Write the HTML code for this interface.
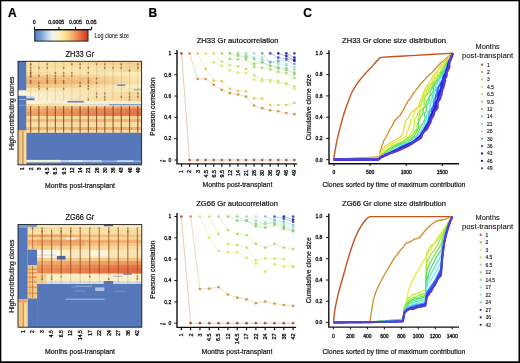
<!DOCTYPE html>
<html><head><meta charset="utf-8"><title>Figure</title>
<style>
html,body{margin:0;padding:0;background:#fff;overflow:hidden;}
svg{display:block;}
text{font-family:"Liberation Sans",sans-serif;}
</style></head><body>
<svg width="520" height="363" viewBox="0 0 520 363" font-family='"Liberation Sans",sans-serif' fill="#111">
<defs><filter id="gblur" x="0" y="0" width="100%" height="100%"><feGaussianBlur stdDeviation="0.3"/></filter></defs>
<rect x="0" y="0" width="520" height="363" fill="#fff"/>
<g filter="url(#gblur)">
<rect x="0" y="0" width="520" height="363" fill="#fff"/>
<rect x="0" y="0" width="520" height="1.3" fill="#000"/>
<rect x="0" y="0" width="1.3" height="363" fill="#000"/>
<rect x="518.5" y="0" width="1.5" height="363" fill="#000"/>
<rect x="0" y="361.3" width="520" height="1.7" fill="#000"/>
<text x="8.00" y="16.80" font-size="12" font-weight="bold" fill="#000" stroke="#000" stroke-width="0.2">A</text>
<text x="148.60" y="16.80" font-size="12" font-weight="bold" fill="#000" stroke="#000" stroke-width="0.2">B</text>
<text x="303.30" y="16.80" font-size="12" font-weight="bold" fill="#000" stroke="#000" stroke-width="0.2">C</text>
<defs><linearGradient id="cb" x1="0" x2="1" y1="0" y2="0"><stop offset="0" stop-color="#4f7cc4"/><stop offset="0.12" stop-color="#78a2d8"/><stop offset="0.25" stop-color="#c4dcec"/><stop offset="0.33" stop-color="#eef2ee"/><stop offset="0.45" stop-color="#fbf3c4"/><stop offset="0.58" stop-color="#fbe18e"/><stop offset="0.72" stop-color="#f4ac66"/><stop offset="0.86" stop-color="#e66c42"/><stop offset="1" stop-color="#c8361f"/></linearGradient></defs>
<rect x="34.7" y="29.8" width="53.3" height="11.3" fill="url(#cb)" stroke="#222" stroke-width="1"/>
<path d="M34.5 29.6H91.6M34.5 29.6V26.8M58.9 29.6V26.8M75.5 29.6V26.8M91.6 29.6V26.8" stroke="#111" stroke-width="1.1" fill="none"/>
<text x="34.30" y="23.50" font-size="5.2" text-anchor="middle" stroke="#111" stroke-width="0.3">0</text>
<text x="56.20" y="23.50" font-size="5.2" text-anchor="middle" textLength="16.10" lengthAdjust="spacingAndGlyphs" stroke="#111" stroke-width="0.3">0.0005</text>
<text x="75.40" y="23.50" font-size="5.2" text-anchor="middle" textLength="12.80" lengthAdjust="spacingAndGlyphs" stroke="#111" stroke-width="0.3">0.005</text>
<text x="91.30" y="23.50" font-size="5.2" text-anchor="middle" textLength="10.70" lengthAdjust="spacingAndGlyphs" stroke="#111" stroke-width="0.3">0.05</text>
<text x="94.60" y="37.80" font-size="6.4" textLength="34.40" lengthAdjust="spacingAndGlyphs" stroke="#111" stroke-width="0.08">Log clone size</text>
<defs><filter id="hb3" x="-2%" y="-2%" width="104%" height="104%"><feGaussianBlur stdDeviation="0.35"/></filter></defs>
<g filter="url(#hb3)">
<rect x="18.00" y="61.30" width="123.60" height="103.50" fill="#fbedb4"/>
<rect x="26.24" y="61.30" width="9.04" height="4.00" fill="#f8e2a8"/>
<rect x="34.48" y="61.30" width="9.04" height="4.00" fill="#f8e1a6"/>
<rect x="42.72" y="61.30" width="9.04" height="4.00" fill="#f7dfa5"/>
<rect x="50.96" y="61.30" width="9.04" height="4.00" fill="#f7dea3"/>
<rect x="59.20" y="61.30" width="9.04" height="4.00" fill="#f7dca1"/>
<rect x="67.44" y="61.30" width="9.04" height="4.00" fill="#f6dba0"/>
<rect x="75.68" y="61.30" width="9.04" height="4.00" fill="#f6d99e"/>
<rect x="83.92" y="61.30" width="9.04" height="4.00" fill="#f6d89c"/>
<rect x="92.16" y="61.30" width="9.04" height="4.00" fill="#f6d69a"/>
<rect x="100.40" y="61.30" width="9.04" height="4.00" fill="#f5d599"/>
<rect x="108.64" y="61.30" width="9.04" height="4.00" fill="#f5d397"/>
<rect x="116.88" y="61.30" width="9.04" height="4.00" fill="#f5d295"/>
<rect x="125.12" y="61.30" width="9.04" height="4.00" fill="#f4d094"/>
<rect x="133.36" y="61.30" width="8.24" height="4.00" fill="#f4cf92"/>
<rect x="26.24" y="65.00" width="9.04" height="3.80" fill="#f7dca0"/>
<rect x="34.48" y="65.00" width="9.04" height="3.80" fill="#f7dda1"/>
<rect x="42.72" y="65.00" width="9.04" height="3.80" fill="#f7dea2"/>
<rect x="50.96" y="65.00" width="9.04" height="3.80" fill="#f7dfa4"/>
<rect x="59.20" y="65.00" width="9.04" height="3.80" fill="#f8e0a5"/>
<rect x="67.44" y="65.00" width="9.04" height="3.80" fill="#f8e1a6"/>
<rect x="75.68" y="65.00" width="9.04" height="3.80" fill="#f8e2a7"/>
<rect x="83.92" y="65.00" width="9.04" height="3.80" fill="#f8e1a7"/>
<rect x="92.16" y="65.00" width="9.04" height="3.80" fill="#f7dfa4"/>
<rect x="100.40" y="65.00" width="9.04" height="3.80" fill="#f7dca1"/>
<rect x="108.64" y="65.00" width="9.04" height="3.80" fill="#f6da9e"/>
<rect x="116.88" y="65.00" width="9.04" height="3.80" fill="#f6d89c"/>
<rect x="125.12" y="65.00" width="9.04" height="3.80" fill="#f5d599"/>
<rect x="133.36" y="65.00" width="8.24" height="3.80" fill="#f5d396"/>
<rect x="26.24" y="68.50" width="9.04" height="3.80" fill="#f8e2a8"/>
<rect x="34.48" y="68.50" width="9.04" height="3.80" fill="#f8e3a9"/>
<rect x="42.72" y="68.50" width="9.04" height="3.80" fill="#f8e3aa"/>
<rect x="50.96" y="68.50" width="9.04" height="3.80" fill="#f8e4ac"/>
<rect x="59.20" y="68.50" width="9.04" height="3.80" fill="#f9e4ad"/>
<rect x="67.44" y="68.50" width="9.04" height="3.80" fill="#f9e5ae"/>
<rect x="75.68" y="68.50" width="9.04" height="3.80" fill="#f9e6af"/>
<rect x="83.92" y="68.50" width="9.04" height="3.80" fill="#f9e5ae"/>
<rect x="92.16" y="68.50" width="9.04" height="3.80" fill="#f8e3ab"/>
<rect x="100.40" y="68.50" width="9.04" height="3.80" fill="#f8e1a8"/>
<rect x="108.64" y="68.50" width="9.04" height="3.80" fill="#f7dea5"/>
<rect x="116.88" y="68.50" width="9.04" height="3.80" fill="#f7dca2"/>
<rect x="125.12" y="68.50" width="9.04" height="3.80" fill="#f6da9f"/>
<rect x="133.36" y="68.50" width="8.24" height="3.80" fill="#f6d89c"/>
<rect x="26.24" y="72.00" width="9.04" height="3.30" fill="#f6d89c"/>
<rect x="34.48" y="72.00" width="9.04" height="3.30" fill="#f6da9e"/>
<rect x="42.72" y="72.00" width="9.04" height="3.30" fill="#f7dca0"/>
<rect x="50.96" y="72.00" width="9.04" height="3.30" fill="#f7dea2"/>
<rect x="59.20" y="72.00" width="9.04" height="3.30" fill="#f7dfa5"/>
<rect x="67.44" y="72.00" width="9.04" height="3.30" fill="#f8e1a7"/>
<rect x="75.68" y="72.00" width="9.04" height="3.30" fill="#f8e3a9"/>
<rect x="83.92" y="72.00" width="9.04" height="3.30" fill="#f8e5ab"/>
<rect x="92.16" y="72.00" width="9.04" height="3.30" fill="#f8e6ae"/>
<rect x="100.40" y="72.00" width="9.04" height="3.30" fill="#f9e7b1"/>
<rect x="108.64" y="72.00" width="9.04" height="3.30" fill="#f9e9b4"/>
<rect x="116.88" y="72.00" width="9.04" height="3.30" fill="#f9eab6"/>
<rect x="125.12" y="72.00" width="9.04" height="3.30" fill="#faecb9"/>
<rect x="133.36" y="72.00" width="8.24" height="3.30" fill="#faedbc"/>
<rect x="26.24" y="75.00" width="9.04" height="2.30" fill="#f3c98a"/>
<rect x="34.48" y="75.00" width="9.04" height="2.30" fill="#f3ca8c"/>
<rect x="42.72" y="75.00" width="9.04" height="2.30" fill="#f4cc8d"/>
<rect x="50.96" y="75.00" width="9.04" height="2.30" fill="#f4cd8f"/>
<rect x="59.20" y="75.00" width="9.04" height="2.30" fill="#f4cf90"/>
<rect x="67.44" y="75.00" width="9.04" height="2.30" fill="#f5d092"/>
<rect x="75.68" y="75.00" width="9.04" height="2.30" fill="#f5d193"/>
<rect x="83.92" y="75.00" width="9.04" height="2.30" fill="#f5d497"/>
<rect x="92.16" y="75.00" width="9.04" height="2.30" fill="#f6d89c"/>
<rect x="100.40" y="75.00" width="9.04" height="2.30" fill="#f7dca2"/>
<rect x="108.64" y="75.00" width="9.04" height="2.30" fill="#f7dfa7"/>
<rect x="116.88" y="75.00" width="9.04" height="2.30" fill="#f8e3ad"/>
<rect x="125.12" y="75.00" width="9.04" height="2.30" fill="#f8e7b2"/>
<rect x="133.36" y="75.00" width="8.24" height="2.30" fill="#f9ebb8"/>
<rect x="26.24" y="77.00" width="9.04" height="3.30" fill="#f0ba7a"/>
<rect x="34.48" y="77.00" width="9.04" height="3.30" fill="#f0bc7c"/>
<rect x="42.72" y="77.00" width="9.04" height="3.30" fill="#f1bd7e"/>
<rect x="50.96" y="77.00" width="9.04" height="3.30" fill="#f1bf80"/>
<rect x="59.20" y="77.00" width="9.04" height="3.30" fill="#f2c081"/>
<rect x="67.44" y="77.00" width="9.04" height="3.30" fill="#f2c283"/>
<rect x="75.68" y="77.00" width="9.04" height="3.30" fill="#f3c385"/>
<rect x="83.92" y="77.00" width="9.04" height="3.30" fill="#f3c789"/>
<rect x="92.16" y="77.00" width="9.04" height="3.30" fill="#f4cc90"/>
<rect x="100.40" y="77.00" width="9.04" height="3.30" fill="#f5d196"/>
<rect x="108.64" y="77.00" width="9.04" height="3.30" fill="#f6d69d"/>
<rect x="116.88" y="77.00" width="9.04" height="3.30" fill="#f6dca3"/>
<rect x="125.12" y="77.00" width="9.04" height="3.30" fill="#f7e1aa"/>
<rect x="133.36" y="77.00" width="8.24" height="3.30" fill="#f8e6b0"/>
<rect x="26.24" y="80.00" width="9.04" height="4.80" fill="#eeb070"/>
<rect x="34.48" y="80.00" width="9.04" height="4.80" fill="#efb272"/>
<rect x="42.72" y="80.00" width="9.04" height="4.80" fill="#efb475"/>
<rect x="50.96" y="80.00" width="9.04" height="4.80" fill="#f0b677"/>
<rect x="59.20" y="80.00" width="9.04" height="4.80" fill="#f0b97a"/>
<rect x="67.44" y="80.00" width="9.04" height="4.80" fill="#f1bb7c"/>
<rect x="75.68" y="80.00" width="9.04" height="4.80" fill="#f2bd7f"/>
<rect x="83.92" y="80.00" width="9.04" height="4.80" fill="#f2c183"/>
<rect x="92.16" y="80.00" width="9.04" height="4.80" fill="#f3c68a"/>
<rect x="100.40" y="80.00" width="9.04" height="4.80" fill="#f4cc90"/>
<rect x="108.64" y="80.00" width="9.04" height="4.80" fill="#f5d197"/>
<rect x="116.88" y="80.00" width="9.04" height="4.80" fill="#f5d79d"/>
<rect x="125.12" y="80.00" width="9.04" height="4.80" fill="#f6dca4"/>
<rect x="133.36" y="80.00" width="8.24" height="4.80" fill="#f7e2aa"/>
<rect x="26.24" y="84.50" width="9.04" height="3.80" fill="#f3c688"/>
<rect x="34.48" y="84.50" width="9.04" height="3.80" fill="#f3c88b"/>
<rect x="42.72" y="84.50" width="9.04" height="3.80" fill="#f4cb8e"/>
<rect x="50.96" y="84.50" width="9.04" height="3.80" fill="#f4cd90"/>
<rect x="59.20" y="84.50" width="9.04" height="3.80" fill="#f5d093"/>
<rect x="67.44" y="84.50" width="9.04" height="3.80" fill="#f5d296"/>
<rect x="75.68" y="84.50" width="9.04" height="3.80" fill="#f6d599"/>
<rect x="83.92" y="84.50" width="9.04" height="3.80" fill="#f6d89d"/>
<rect x="92.16" y="84.50" width="9.04" height="3.80" fill="#f7dca4"/>
<rect x="100.40" y="84.50" width="9.04" height="3.80" fill="#f8e0aa"/>
<rect x="108.64" y="84.50" width="9.04" height="3.80" fill="#f8e3b1"/>
<rect x="116.88" y="84.50" width="9.04" height="3.80" fill="#f9e7b7"/>
<rect x="125.12" y="84.50" width="9.04" height="3.80" fill="#f9ebbe"/>
<rect x="133.36" y="84.50" width="8.24" height="3.80" fill="#faefc4"/>
<rect x="26.24" y="88.00" width="9.04" height="4.30" fill="#f9e6b0"/>
<rect x="34.48" y="88.00" width="9.04" height="4.30" fill="#f9e6b0"/>
<rect x="42.72" y="88.00" width="9.04" height="4.30" fill="#f9e6b0"/>
<rect x="50.96" y="88.00" width="9.04" height="4.30" fill="#f9e6b0"/>
<rect x="59.20" y="88.00" width="9.04" height="4.30" fill="#f9e6b0"/>
<rect x="67.44" y="88.00" width="9.04" height="4.30" fill="#f9e6b0"/>
<rect x="75.68" y="88.00" width="9.04" height="4.30" fill="#f9e6b0"/>
<rect x="83.92" y="88.00" width="9.04" height="4.30" fill="#f8e6b0"/>
<rect x="92.16" y="88.00" width="9.04" height="4.30" fill="#f8e6b0"/>
<rect x="100.40" y="88.00" width="9.04" height="4.30" fill="#f8e6b0"/>
<rect x="108.64" y="88.00" width="9.04" height="4.30" fill="#f8e6b0"/>
<rect x="116.88" y="88.00" width="9.04" height="4.30" fill="#f8e6b0"/>
<rect x="125.12" y="88.00" width="9.04" height="4.30" fill="#f8e6b0"/>
<rect x="133.36" y="88.00" width="8.24" height="4.30" fill="#f8e6b0"/>
<rect x="26.24" y="92.00" width="9.04" height="4.30" fill="#fbf2d0"/>
<rect x="34.48" y="92.00" width="9.04" height="4.30" fill="#fbf0cc"/>
<rect x="42.72" y="92.00" width="9.04" height="4.30" fill="#faeec8"/>
<rect x="50.96" y="92.00" width="9.04" height="4.30" fill="#faecc4"/>
<rect x="59.20" y="92.00" width="9.04" height="4.30" fill="#f9eac1"/>
<rect x="67.44" y="92.00" width="9.04" height="4.30" fill="#f9e8bd"/>
<rect x="75.68" y="92.00" width="9.04" height="4.30" fill="#f9e6b9"/>
<rect x="83.92" y="92.00" width="9.04" height="4.30" fill="#f8e4b5"/>
<rect x="92.16" y="92.00" width="9.04" height="4.30" fill="#f8e2b1"/>
<rect x="100.40" y="92.00" width="9.04" height="4.30" fill="#f8e0ad"/>
<rect x="108.64" y="92.00" width="9.04" height="4.30" fill="#f7deaa"/>
<rect x="116.88" y="92.00" width="9.04" height="4.30" fill="#f7dca6"/>
<rect x="125.12" y="92.00" width="9.04" height="4.30" fill="#f6daa2"/>
<rect x="133.36" y="92.00" width="8.24" height="4.30" fill="#f6d89e"/>
<rect x="26.24" y="96.00" width="9.04" height="5.30" fill="#fcf4d6"/>
<rect x="34.48" y="96.00" width="9.04" height="5.30" fill="#fbf2d1"/>
<rect x="42.72" y="96.00" width="9.04" height="5.30" fill="#fbefcd"/>
<rect x="50.96" y="96.00" width="9.04" height="5.30" fill="#faedc8"/>
<rect x="59.20" y="96.00" width="9.04" height="5.30" fill="#faeac4"/>
<rect x="67.44" y="96.00" width="9.04" height="5.30" fill="#f9e8bf"/>
<rect x="75.68" y="96.00" width="9.04" height="5.30" fill="#f9e5ba"/>
<rect x="83.92" y="96.00" width="9.04" height="5.30" fill="#f8e3b6"/>
<rect x="92.16" y="96.00" width="9.04" height="5.30" fill="#f8e0b1"/>
<rect x="100.40" y="96.00" width="9.04" height="5.30" fill="#f7deac"/>
<rect x="108.64" y="96.00" width="9.04" height="5.30" fill="#f7dba8"/>
<rect x="116.88" y="96.00" width="9.04" height="5.30" fill="#f6d9a3"/>
<rect x="125.12" y="96.00" width="9.04" height="5.30" fill="#f6d69f"/>
<rect x="133.36" y="96.00" width="8.24" height="5.30" fill="#f5d49a"/>
<rect x="26.24" y="101.00" width="9.04" height="3.30" fill="#fcf4d6"/>
<rect x="34.48" y="101.00" width="9.04" height="3.30" fill="#fcf3d5"/>
<rect x="42.72" y="101.00" width="9.04" height="3.30" fill="#fcf3d4"/>
<rect x="50.96" y="101.00" width="9.04" height="3.30" fill="#fbf2d2"/>
<rect x="59.20" y="101.00" width="9.04" height="3.30" fill="#fbf2d1"/>
<rect x="67.44" y="101.00" width="9.04" height="3.30" fill="#fbf1d0"/>
<rect x="75.68" y="101.00" width="9.04" height="3.30" fill="#fbf0cf"/>
<rect x="83.92" y="101.00" width="9.04" height="3.30" fill="#faf0cd"/>
<rect x="92.16" y="101.00" width="9.04" height="3.30" fill="#faefcc"/>
<rect x="100.40" y="101.00" width="9.04" height="3.30" fill="#faeecb"/>
<rect x="108.64" y="101.00" width="9.04" height="3.30" fill="#faeeca"/>
<rect x="116.88" y="101.00" width="9.04" height="3.30" fill="#f9edc8"/>
<rect x="125.12" y="101.00" width="9.04" height="3.30" fill="#f9edc7"/>
<rect x="133.36" y="101.00" width="8.24" height="3.30" fill="#f9ecc6"/>
<rect x="26.24" y="104.00" width="9.04" height="2.80" fill="#f6d896"/>
<rect x="34.48" y="104.00" width="9.04" height="2.80" fill="#f6da9a"/>
<rect x="42.72" y="104.00" width="9.04" height="2.80" fill="#f7dc9f"/>
<rect x="50.96" y="104.00" width="9.04" height="2.80" fill="#f7dea3"/>
<rect x="59.20" y="104.00" width="9.04" height="2.80" fill="#f8dfa8"/>
<rect x="67.44" y="104.00" width="9.04" height="2.80" fill="#f8e1ac"/>
<rect x="75.68" y="104.00" width="9.04" height="2.80" fill="#f8e3b1"/>
<rect x="83.92" y="104.00" width="9.04" height="2.80" fill="#f9e5b5"/>
<rect x="92.16" y="104.00" width="9.04" height="2.80" fill="#f9e7ba"/>
<rect x="100.40" y="104.00" width="9.04" height="2.80" fill="#f9e9be"/>
<rect x="108.64" y="104.00" width="9.04" height="2.80" fill="#faeac3"/>
<rect x="116.88" y="104.00" width="9.04" height="2.80" fill="#faecc7"/>
<rect x="125.12" y="104.00" width="9.04" height="2.80" fill="#fbeecc"/>
<rect x="133.36" y="104.00" width="8.24" height="2.80" fill="#fbf0d0"/>
<rect x="26.24" y="106.50" width="9.04" height="2.30" fill="#f4bf80"/>
<rect x="34.48" y="106.50" width="9.04" height="2.30" fill="#f3bc7e"/>
<rect x="42.72" y="106.50" width="9.04" height="2.30" fill="#f2b97b"/>
<rect x="50.96" y="106.50" width="9.04" height="2.30" fill="#f2b679"/>
<rect x="59.20" y="106.50" width="9.04" height="2.30" fill="#f1b477"/>
<rect x="67.44" y="106.50" width="9.04" height="2.30" fill="#f0b174"/>
<rect x="75.68" y="106.50" width="9.04" height="2.30" fill="#efae72"/>
<rect x="83.92" y="106.50" width="9.04" height="2.30" fill="#efab70"/>
<rect x="92.16" y="106.50" width="9.04" height="2.30" fill="#eea86e"/>
<rect x="100.40" y="106.50" width="9.04" height="2.30" fill="#eda56b"/>
<rect x="108.64" y="106.50" width="9.04" height="2.30" fill="#eca369"/>
<rect x="116.88" y="106.50" width="9.04" height="2.30" fill="#eca067"/>
<rect x="125.12" y="106.50" width="9.04" height="2.30" fill="#eb9d64"/>
<rect x="133.36" y="106.50" width="8.24" height="2.30" fill="#ea9a62"/>
<rect x="26.24" y="108.50" width="9.04" height="3.80" fill="#f0aa6a"/>
<rect x="34.48" y="108.50" width="9.04" height="3.80" fill="#efa668"/>
<rect x="42.72" y="108.50" width="9.04" height="3.80" fill="#eea365"/>
<rect x="50.96" y="108.50" width="9.04" height="3.80" fill="#ed9f63"/>
<rect x="59.20" y="108.50" width="9.04" height="3.80" fill="#ec9b61"/>
<rect x="67.44" y="108.50" width="9.04" height="3.80" fill="#eb985e"/>
<rect x="75.68" y="108.50" width="9.04" height="3.80" fill="#ea945c"/>
<rect x="83.92" y="108.50" width="9.04" height="3.80" fill="#ea905a"/>
<rect x="92.16" y="108.50" width="9.04" height="3.80" fill="#e98c58"/>
<rect x="100.40" y="108.50" width="9.04" height="3.80" fill="#e88955"/>
<rect x="108.64" y="108.50" width="9.04" height="3.80" fill="#e78553"/>
<rect x="116.88" y="108.50" width="9.04" height="3.80" fill="#e68151"/>
<rect x="125.12" y="108.50" width="9.04" height="3.80" fill="#e57e4e"/>
<rect x="133.36" y="108.50" width="8.24" height="3.80" fill="#e47a4c"/>
<rect x="26.24" y="112.00" width="9.04" height="4.30" fill="#eea062"/>
<rect x="34.48" y="112.00" width="9.04" height="4.30" fill="#ed9c60"/>
<rect x="42.72" y="112.00" width="9.04" height="4.30" fill="#ec995e"/>
<rect x="50.96" y="112.00" width="9.04" height="4.30" fill="#eb955c"/>
<rect x="59.20" y="112.00" width="9.04" height="4.30" fill="#ea9259"/>
<rect x="67.44" y="112.00" width="9.04" height="4.30" fill="#e98e57"/>
<rect x="75.68" y="112.00" width="9.04" height="4.30" fill="#e88b55"/>
<rect x="83.92" y="112.00" width="9.04" height="4.30" fill="#e88753"/>
<rect x="92.16" y="112.00" width="9.04" height="4.30" fill="#e78451"/>
<rect x="100.40" y="112.00" width="9.04" height="4.30" fill="#e6804f"/>
<rect x="108.64" y="112.00" width="9.04" height="4.30" fill="#e57d4c"/>
<rect x="116.88" y="112.00" width="9.04" height="4.30" fill="#e4794a"/>
<rect x="125.12" y="112.00" width="9.04" height="4.30" fill="#e37648"/>
<rect x="133.36" y="112.00" width="8.24" height="4.30" fill="#e27246"/>
<rect x="26.24" y="116.00" width="9.04" height="3.30" fill="#f8dca0"/>
<rect x="34.48" y="116.00" width="9.04" height="3.30" fill="#f8dca0"/>
<rect x="42.72" y="116.00" width="9.04" height="3.30" fill="#f8db9f"/>
<rect x="50.96" y="116.00" width="9.04" height="3.30" fill="#f8db9f"/>
<rect x="59.20" y="116.00" width="9.04" height="3.30" fill="#f8db9f"/>
<rect x="67.44" y="116.00" width="9.04" height="3.30" fill="#f8da9e"/>
<rect x="75.68" y="116.00" width="9.04" height="3.30" fill="#f8da9e"/>
<rect x="83.92" y="116.00" width="9.04" height="3.30" fill="#f7da9e"/>
<rect x="92.16" y="116.00" width="9.04" height="3.30" fill="#f7da9e"/>
<rect x="100.40" y="116.00" width="9.04" height="3.30" fill="#f7d99d"/>
<rect x="108.64" y="116.00" width="9.04" height="3.30" fill="#f7d99d"/>
<rect x="116.88" y="116.00" width="9.04" height="3.30" fill="#f7d99d"/>
<rect x="125.12" y="116.00" width="9.04" height="3.30" fill="#f7d89c"/>
<rect x="133.36" y="116.00" width="8.24" height="3.30" fill="#f7d89c"/>
<rect x="26.24" y="119.00" width="9.04" height="3.30" fill="#f3bc7c"/>
<rect x="34.48" y="119.00" width="9.04" height="3.30" fill="#f3bb7b"/>
<rect x="42.72" y="119.00" width="9.04" height="3.30" fill="#f3ba7b"/>
<rect x="50.96" y="119.00" width="9.04" height="3.30" fill="#f2b97a"/>
<rect x="59.20" y="119.00" width="9.04" height="3.30" fill="#f2b87a"/>
<rect x="67.44" y="119.00" width="9.04" height="3.30" fill="#f2b779"/>
<rect x="75.68" y="119.00" width="9.04" height="3.30" fill="#f2b678"/>
<rect x="83.92" y="119.00" width="9.04" height="3.30" fill="#f1b678"/>
<rect x="92.16" y="119.00" width="9.04" height="3.30" fill="#f1b577"/>
<rect x="100.40" y="119.00" width="9.04" height="3.30" fill="#f1b476"/>
<rect x="108.64" y="119.00" width="9.04" height="3.30" fill="#f1b376"/>
<rect x="116.88" y="119.00" width="9.04" height="3.30" fill="#f0b275"/>
<rect x="125.12" y="119.00" width="9.04" height="3.30" fill="#f0b175"/>
<rect x="133.36" y="119.00" width="8.24" height="3.30" fill="#f0b074"/>
<rect x="26.24" y="122.00" width="9.04" height="5.30" fill="#f9e0a4"/>
<rect x="34.48" y="122.00" width="9.04" height="5.30" fill="#f9e0a4"/>
<rect x="42.72" y="122.00" width="9.04" height="5.30" fill="#f9dfa3"/>
<rect x="50.96" y="122.00" width="9.04" height="5.30" fill="#f9dfa3"/>
<rect x="59.20" y="122.00" width="9.04" height="5.30" fill="#f9dfa3"/>
<rect x="67.44" y="122.00" width="9.04" height="5.30" fill="#f9dea2"/>
<rect x="75.68" y="122.00" width="9.04" height="5.30" fill="#f9dea2"/>
<rect x="83.92" y="122.00" width="9.04" height="5.30" fill="#f8dea2"/>
<rect x="92.16" y="122.00" width="9.04" height="5.30" fill="#f8dea2"/>
<rect x="100.40" y="122.00" width="9.04" height="5.30" fill="#f8dda1"/>
<rect x="108.64" y="122.00" width="9.04" height="5.30" fill="#f8dda1"/>
<rect x="116.88" y="122.00" width="9.04" height="5.30" fill="#f8dda1"/>
<rect x="125.12" y="122.00" width="9.04" height="5.30" fill="#f8dca0"/>
<rect x="133.36" y="122.00" width="8.24" height="5.30" fill="#f8dca0"/>
<rect x="26.24" y="127.00" width="9.04" height="3.30" fill="#f2b474"/>
<rect x="34.48" y="127.00" width="9.04" height="3.30" fill="#f2b373"/>
<rect x="42.72" y="127.00" width="9.04" height="3.30" fill="#f1b273"/>
<rect x="50.96" y="127.00" width="9.04" height="3.30" fill="#f1b272"/>
<rect x="59.20" y="127.00" width="9.04" height="3.30" fill="#f1b172"/>
<rect x="67.44" y="127.00" width="9.04" height="3.30" fill="#f0b071"/>
<rect x="75.68" y="127.00" width="9.04" height="3.30" fill="#f0af70"/>
<rect x="83.92" y="127.00" width="9.04" height="3.30" fill="#f0af70"/>
<rect x="92.16" y="127.00" width="9.04" height="3.30" fill="#f0ae6f"/>
<rect x="100.40" y="127.00" width="9.04" height="3.30" fill="#efad6e"/>
<rect x="108.64" y="127.00" width="9.04" height="3.30" fill="#efac6e"/>
<rect x="116.88" y="127.00" width="9.04" height="3.30" fill="#efac6d"/>
<rect x="125.12" y="127.00" width="9.04" height="3.30" fill="#eeab6d"/>
<rect x="133.36" y="127.00" width="8.24" height="3.30" fill="#eeaa6c"/>
<rect x="26.24" y="130.00" width="9.04" height="3.10" fill="#f9e2a8"/>
<rect x="34.48" y="130.00" width="9.04" height="3.10" fill="#f9e2a8"/>
<rect x="42.72" y="130.00" width="9.04" height="3.10" fill="#f9e1a7"/>
<rect x="50.96" y="130.00" width="9.04" height="3.10" fill="#f9e1a7"/>
<rect x="59.20" y="130.00" width="9.04" height="3.10" fill="#f9e1a7"/>
<rect x="67.44" y="130.00" width="9.04" height="3.10" fill="#f9e0a6"/>
<rect x="75.68" y="130.00" width="9.04" height="3.10" fill="#f9e0a6"/>
<rect x="83.92" y="130.00" width="9.04" height="3.10" fill="#f8e0a6"/>
<rect x="92.16" y="130.00" width="9.04" height="3.10" fill="#f8e0a6"/>
<rect x="100.40" y="130.00" width="9.04" height="3.10" fill="#f8dfa5"/>
<rect x="108.64" y="130.00" width="9.04" height="3.10" fill="#f8dfa5"/>
<rect x="116.88" y="130.00" width="9.04" height="3.10" fill="#f8dfa5"/>
<rect x="125.12" y="130.00" width="9.04" height="3.10" fill="#f8dea4"/>
<rect x="133.36" y="130.00" width="8.24" height="3.10" fill="#f8dea4"/>
<rect x="26.24" y="132.80" width="115.36" height="32.00" fill="#5677ba"/>
<rect x="26.24" y="159.90" width="34.61" height="2.50" fill="#f6f2d4"/>
<rect x="60.85" y="160.10" width="41.20" height="2.10" fill="#c4d4ea"/>
<rect x="69.09" y="160.30" width="13.18" height="1.60" fill="#e8eef6"/>
<rect x="102.05" y="160.50" width="39.55" height="1.40" fill="#9fb6dc"/>
<rect x="116.88" y="160.40" width="16.48" height="1.50" fill="#d8e2f0"/>
<rect x="117.38" y="84.40" width="8.00" height="1.40" fill="#5f80be"/>
<rect x="133.66" y="88.80" width="7.90" height="1.60" fill="#9fb3d2"/>
<rect x="26.24" y="96.20" width="8.24" height="2.20" fill="#c2daec"/>
<rect x="26.24" y="98.30" width="8.24" height="2.20" fill="#5476b8"/>
<rect x="26.24" y="100.50" width="8.24" height="1.60" fill="#fafaf4"/>
<rect x="67.44" y="100.90" width="16.48" height="1.70" fill="#6d8ac4"/>
<rect x="109.14" y="104.00" width="32.46" height="1.50" fill="#86a0cf"/>
<rect x="83.92" y="104.20" width="24.72" height="1.00" fill="#c8d6e2"/>
<rect x="42.72" y="102.50" width="24.72" height="1.00" fill="#dde4e0"/>
<rect x="18.00" y="61.30" width="8.24" height="29.20" fill="#5677ba"/>
<rect x="18.00" y="90.50" width="8.24" height="5.30" fill="#f8f5e2"/>
<rect x="18.00" y="95.80" width="8.24" height="34.20" fill="#5677ba"/>
<rect x="18.00" y="99.00" width="8.24" height="1.00" fill="#98b0d6"/>
<rect x="18.00" y="104.80" width="8.24" height="0.80" fill="#88a2d0"/>
<rect x="18.00" y="130.00" width="8.24" height="34.80" fill="#f8dc98"/>
<rect x="18.80" y="130.00" width="3.00" height="34.80" fill="#f3c480"/>
<rect x="22.40" y="130.00" width="1.10" height="34.80" fill="#c47a3c"/>
<rect x="18.00" y="130.00" width="8.24" height="1.20" fill="#f0b070"/>
<rect x="29.91" y="63.30" width="1.50" height="2.00" fill="#7a4a20" opacity="0.62"/>
<rect x="46.39" y="63.30" width="1.50" height="2.00" fill="#7a4a20" opacity="0.62"/>
<rect x="71.11" y="63.30" width="1.50" height="2.00" fill="#7a4a20" opacity="0.62"/>
<rect x="79.35" y="63.30" width="1.50" height="2.00" fill="#7a4a20" opacity="0.62"/>
<rect x="95.83" y="63.30" width="1.50" height="2.00" fill="#7a4a20" opacity="0.62"/>
<rect x="104.07" y="63.30" width="1.50" height="2.00" fill="#7a4a20" opacity="0.62"/>
<rect x="120.55" y="63.30" width="1.50" height="2.00" fill="#7a4a20" opacity="0.62"/>
<rect x="137.03" y="63.30" width="1.50" height="2.00" fill="#7a4a20" opacity="0.62"/>
<rect x="29.91" y="66.90" width="1.50" height="2.00" fill="#7a4a20" opacity="0.62"/>
<rect x="38.15" y="66.90" width="1.50" height="2.00" fill="#7a4a20" opacity="0.62"/>
<rect x="46.39" y="66.90" width="1.50" height="2.00" fill="#7a4a20" opacity="0.62"/>
<rect x="62.87" y="66.90" width="1.50" height="2.00" fill="#7a4a20" opacity="0.62"/>
<rect x="79.35" y="66.90" width="1.50" height="2.00" fill="#7a4a20" opacity="0.62"/>
<rect x="87.59" y="66.90" width="1.50" height="2.00" fill="#7a4a20" opacity="0.62"/>
<rect x="104.07" y="66.90" width="1.50" height="2.00" fill="#7a4a20" opacity="0.62"/>
<rect x="112.31" y="66.90" width="1.50" height="2.00" fill="#7a4a20" opacity="0.62"/>
<rect x="120.55" y="66.90" width="1.50" height="2.00" fill="#7a4a20" opacity="0.62"/>
<rect x="137.03" y="66.90" width="1.50" height="2.00" fill="#7a4a20" opacity="0.62"/>
<rect x="128.79" y="69.60" width="1.50" height="2.00" fill="#7a4a20" opacity="0.62"/>
<rect x="29.91" y="71.90" width="1.50" height="2.00" fill="#7a4a20" opacity="0.62"/>
<rect x="54.63" y="71.90" width="1.50" height="2.00" fill="#7a4a20" opacity="0.62"/>
<rect x="62.87" y="71.90" width="1.50" height="2.00" fill="#7a4a20" opacity="0.62"/>
<rect x="71.11" y="71.90" width="1.50" height="2.00" fill="#7a4a20" opacity="0.62"/>
<rect x="87.59" y="71.90" width="1.50" height="2.00" fill="#7a4a20" opacity="0.62"/>
<rect x="29.91" y="74.80" width="1.50" height="2.00" fill="#7a4a20" opacity="0.62"/>
<rect x="38.15" y="74.80" width="1.50" height="2.00" fill="#7a4a20" opacity="0.62"/>
<rect x="46.39" y="74.80" width="1.50" height="2.00" fill="#7a4a20" opacity="0.62"/>
<rect x="54.63" y="74.80" width="1.50" height="2.00" fill="#7a4a20" opacity="0.62"/>
<rect x="62.87" y="74.80" width="1.50" height="2.00" fill="#7a4a20" opacity="0.62"/>
<rect x="71.11" y="74.80" width="1.50" height="2.00" fill="#7a4a20" opacity="0.62"/>
<rect x="46.39" y="77.60" width="1.50" height="2.00" fill="#7a4a20" opacity="0.62"/>
<rect x="54.63" y="77.60" width="1.50" height="2.00" fill="#7a4a20" opacity="0.62"/>
<rect x="87.59" y="77.60" width="1.50" height="2.00" fill="#7a4a20" opacity="0.62"/>
<rect x="95.83" y="77.60" width="1.50" height="2.00" fill="#7a4a20" opacity="0.62"/>
<rect x="29.91" y="80.00" width="1.50" height="2.00" fill="#7a4a20" opacity="0.62"/>
<rect x="46.39" y="80.00" width="1.50" height="2.00" fill="#7a4a20" opacity="0.62"/>
<rect x="54.63" y="80.00" width="1.50" height="2.00" fill="#7a4a20" opacity="0.62"/>
<rect x="62.87" y="80.00" width="1.50" height="2.00" fill="#7a4a20" opacity="0.62"/>
<rect x="87.59" y="80.00" width="1.50" height="2.00" fill="#7a4a20" opacity="0.62"/>
<rect x="29.91" y="81.90" width="1.50" height="2.00" fill="#7a4a20" opacity="0.62"/>
<rect x="38.15" y="81.90" width="1.50" height="2.00" fill="#7a4a20" opacity="0.62"/>
<rect x="46.39" y="81.90" width="1.50" height="2.00" fill="#7a4a20" opacity="0.62"/>
<rect x="54.63" y="81.90" width="1.50" height="2.00" fill="#7a4a20" opacity="0.62"/>
<rect x="62.87" y="81.90" width="1.50" height="2.00" fill="#7a4a20" opacity="0.62"/>
<rect x="79.35" y="81.90" width="1.50" height="2.00" fill="#7a4a20" opacity="0.62"/>
<rect x="87.59" y="81.90" width="1.50" height="2.00" fill="#7a4a20" opacity="0.62"/>
<rect x="95.83" y="81.90" width="1.50" height="2.00" fill="#7a4a20" opacity="0.62"/>
<rect x="38.15" y="85.00" width="1.50" height="2.00" fill="#7a4a20" opacity="0.62"/>
<rect x="79.35" y="85.00" width="1.50" height="2.00" fill="#7a4a20" opacity="0.62"/>
<rect x="87.59" y="85.00" width="1.50" height="2.00" fill="#7a4a20" opacity="0.62"/>
<rect x="29.91" y="63.30" width="1.50" height="2.00" fill="#7a4a20" opacity="0.62"/>
<rect x="29.91" y="69.60" width="1.50" height="2.00" fill="#7a4a20" opacity="0.62"/>
<rect x="29.91" y="72.50" width="1.50" height="2.00" fill="#7a4a20" opacity="0.62"/>
<rect x="29.91" y="75.50" width="1.50" height="2.00" fill="#7a4a20" opacity="0.62"/>
<rect x="38.15" y="87.80" width="1.50" height="2.00" fill="#7a4a20" opacity="0.62"/>
<rect x="46.39" y="87.80" width="1.50" height="2.00" fill="#7a4a20" opacity="0.62"/>
<rect x="62.87" y="87.80" width="1.50" height="2.00" fill="#7a4a20" opacity="0.62"/>
<rect x="87.59" y="87.80" width="1.50" height="2.00" fill="#7a4a20" opacity="0.62"/>
<rect x="95.83" y="92.50" width="1.50" height="2.00" fill="#7a4a20" opacity="0.62"/>
<rect x="104.07" y="92.50" width="1.50" height="2.00" fill="#7a4a20" opacity="0.62"/>
<rect x="128.79" y="92.50" width="1.50" height="2.00" fill="#7a4a20" opacity="0.62"/>
<rect x="137.03" y="92.50" width="1.50" height="2.00" fill="#7a4a20" opacity="0.62"/>
<rect x="95.83" y="95.80" width="1.50" height="2.00" fill="#7a4a20" opacity="0.62"/>
<rect x="104.07" y="95.80" width="1.50" height="2.00" fill="#7a4a20" opacity="0.62"/>
<rect x="120.55" y="95.80" width="1.50" height="2.00" fill="#7a4a20" opacity="0.62"/>
<rect x="128.79" y="95.80" width="1.50" height="2.00" fill="#7a4a20" opacity="0.62"/>
<rect x="137.03" y="95.80" width="1.50" height="2.00" fill="#7a4a20" opacity="0.62"/>
<rect x="87.59" y="98.60" width="1.50" height="2.00" fill="#7a4a20" opacity="0.62"/>
<rect x="104.07" y="98.60" width="1.50" height="2.00" fill="#7a4a20" opacity="0.62"/>
<rect x="128.79" y="98.60" width="1.50" height="2.00" fill="#7a4a20" opacity="0.62"/>
<rect x="30.11" y="106.00" width="1.10" height="26.60" fill="#843814" opacity="0.8"/>
<rect x="38.35" y="106.00" width="1.10" height="26.60" fill="#843814" opacity="0.8"/>
<rect x="46.59" y="106.00" width="1.10" height="26.60" fill="#843814" opacity="0.8"/>
<rect x="54.83" y="106.00" width="1.10" height="26.60" fill="#843814" opacity="0.8"/>
<rect x="63.07" y="106.00" width="1.10" height="26.60" fill="#843814" opacity="0.8"/>
<rect x="71.31" y="106.00" width="1.10" height="26.60" fill="#843814" opacity="0.8"/>
<rect x="79.55" y="106.00" width="1.10" height="26.60" fill="#843814" opacity="0.8"/>
<rect x="87.79" y="106.00" width="1.10" height="26.60" fill="#843814" opacity="0.8"/>
<rect x="96.03" y="106.00" width="1.10" height="26.60" fill="#843814" opacity="0.8"/>
<rect x="104.27" y="106.00" width="1.10" height="26.60" fill="#843814" opacity="0.8"/>
<rect x="112.51" y="106.00" width="1.10" height="26.60" fill="#843814" opacity="0.8"/>
<rect x="120.75" y="106.00" width="1.10" height="26.60" fill="#843814" opacity="0.8"/>
<rect x="128.99" y="106.00" width="1.10" height="26.60" fill="#843814" opacity="0.8"/>
<rect x="137.23" y="106.00" width="1.10" height="26.60" fill="#843814" opacity="0.8"/>
<rect x="30.11" y="62.00" width="1.10" height="39.00" fill="#9a5a2a" opacity="0.16"/>
<rect x="38.35" y="62.00" width="1.10" height="39.00" fill="#9a5a2a" opacity="0.16"/>
<rect x="46.59" y="62.00" width="1.10" height="39.00" fill="#9a5a2a" opacity="0.16"/>
<rect x="54.83" y="62.00" width="1.10" height="39.00" fill="#9a5a2a" opacity="0.16"/>
<rect x="63.07" y="62.00" width="1.10" height="39.00" fill="#9a5a2a" opacity="0.16"/>
<rect x="71.31" y="62.00" width="1.10" height="39.00" fill="#9a5a2a" opacity="0.16"/>
<rect x="79.55" y="62.00" width="1.10" height="39.00" fill="#9a5a2a" opacity="0.16"/>
<rect x="87.79" y="62.00" width="1.10" height="39.00" fill="#9a5a2a" opacity="0.16"/>
<rect x="96.03" y="62.00" width="1.10" height="39.00" fill="#9a5a2a" opacity="0.16"/>
<rect x="104.27" y="62.00" width="1.10" height="39.00" fill="#9a5a2a" opacity="0.16"/>
<rect x="112.51" y="62.00" width="1.10" height="39.00" fill="#9a5a2a" opacity="0.16"/>
<rect x="120.75" y="62.00" width="1.10" height="39.00" fill="#9a5a2a" opacity="0.16"/>
<rect x="128.99" y="62.00" width="1.10" height="39.00" fill="#9a5a2a" opacity="0.16"/>
<rect x="137.23" y="62.00" width="1.10" height="39.00" fill="#9a5a2a" opacity="0.16"/>
</g>
<rect x="18.00" y="61.30" width="123.60" height="103.50" fill="none" stroke="#1c1c1c" stroke-width="0.9"/>
<defs><filter id="hb7" x="-2%" y="-2%" width="104%" height="104%"><feGaussianBlur stdDeviation="0.35"/></filter></defs>
<g filter="url(#hb7)">
<rect x="18.00" y="224.60" width="123.80" height="102.60" fill="#fbedb4"/>
<rect x="27.52" y="224.60" width="10.32" height="2.90" fill="#f8eec4"/>
<rect x="37.05" y="224.60" width="10.32" height="2.90" fill="#f8eec3"/>
<rect x="46.57" y="224.60" width="10.32" height="2.90" fill="#f8eec3"/>
<rect x="56.09" y="224.60" width="10.32" height="2.90" fill="#f8edc2"/>
<rect x="65.62" y="224.60" width="10.32" height="2.90" fill="#f8edc1"/>
<rect x="75.14" y="224.60" width="10.32" height="2.90" fill="#f8edc0"/>
<rect x="84.66" y="224.60" width="10.32" height="2.90" fill="#f9edc0"/>
<rect x="94.18" y="224.60" width="10.32" height="2.90" fill="#f9edbf"/>
<rect x="103.71" y="224.60" width="10.32" height="2.90" fill="#f9edbe"/>
<rect x="113.23" y="224.60" width="10.32" height="2.90" fill="#f9ecbd"/>
<rect x="122.75" y="224.60" width="10.32" height="2.90" fill="#f9ecbd"/>
<rect x="132.28" y="224.60" width="9.52" height="2.90" fill="#f9ecbc"/>
<rect x="27.52" y="227.20" width="10.32" height="2.10" fill="#f6d294"/>
<rect x="37.05" y="227.20" width="10.32" height="2.10" fill="#f6d497"/>
<rect x="46.57" y="227.20" width="10.32" height="2.10" fill="#f6d599"/>
<rect x="56.09" y="227.20" width="10.32" height="2.10" fill="#f7d79c"/>
<rect x="65.62" y="227.20" width="10.32" height="2.10" fill="#f7d99e"/>
<rect x="75.14" y="227.20" width="10.32" height="2.10" fill="#f7daa1"/>
<rect x="84.66" y="227.20" width="10.32" height="2.10" fill="#f7dca3"/>
<rect x="94.18" y="227.20" width="10.32" height="2.10" fill="#f7dda6"/>
<rect x="103.71" y="227.20" width="10.32" height="2.10" fill="#f7dfa8"/>
<rect x="113.23" y="227.20" width="10.32" height="2.10" fill="#f8e1ab"/>
<rect x="122.75" y="227.20" width="10.32" height="2.10" fill="#f8e2ad"/>
<rect x="132.28" y="227.20" width="9.52" height="2.10" fill="#f8e4b0"/>
<rect x="27.52" y="229.00" width="10.32" height="5.90" fill="#f9e3a8"/>
<rect x="37.05" y="229.00" width="10.32" height="5.90" fill="#f9e2a7"/>
<rect x="46.57" y="229.00" width="10.32" height="5.90" fill="#f9e2a7"/>
<rect x="56.09" y="229.00" width="10.32" height="5.90" fill="#f8e1a6"/>
<rect x="65.62" y="229.00" width="10.32" height="5.90" fill="#f8e0a5"/>
<rect x="75.14" y="229.00" width="10.32" height="5.90" fill="#f8e0a4"/>
<rect x="84.66" y="229.00" width="10.32" height="5.90" fill="#f8dfa4"/>
<rect x="94.18" y="229.00" width="10.32" height="5.90" fill="#f8dfa3"/>
<rect x="103.71" y="229.00" width="10.32" height="5.90" fill="#f8dea2"/>
<rect x="113.23" y="229.00" width="10.32" height="5.90" fill="#f7dda1"/>
<rect x="122.75" y="229.00" width="10.32" height="5.90" fill="#f7dda1"/>
<rect x="132.28" y="229.00" width="9.52" height="5.90" fill="#f7dca0"/>
<rect x="27.52" y="234.60" width="10.32" height="2.70" fill="#eea264"/>
<rect x="37.05" y="234.60" width="10.32" height="2.70" fill="#efa567"/>
<rect x="46.57" y="234.60" width="10.32" height="2.70" fill="#efa96b"/>
<rect x="56.09" y="234.60" width="10.32" height="2.70" fill="#f0ac6e"/>
<rect x="65.62" y="234.60" width="10.32" height="2.70" fill="#f0af71"/>
<rect x="75.14" y="234.60" width="10.32" height="2.70" fill="#f1b274"/>
<rect x="84.66" y="234.60" width="10.32" height="2.70" fill="#f1b678"/>
<rect x="94.18" y="234.60" width="10.32" height="2.70" fill="#f2b97b"/>
<rect x="103.71" y="234.60" width="10.32" height="2.70" fill="#f2bc7e"/>
<rect x="113.23" y="234.60" width="10.32" height="2.70" fill="#f3bf81"/>
<rect x="122.75" y="234.60" width="10.32" height="2.70" fill="#f3c385"/>
<rect x="132.28" y="234.60" width="9.52" height="2.70" fill="#f4c688"/>
<rect x="27.52" y="237.00" width="10.32" height="3.10" fill="#f7d898"/>
<rect x="37.05" y="237.00" width="10.32" height="3.10" fill="#f7d898"/>
<rect x="46.57" y="237.00" width="10.32" height="3.10" fill="#f7d898"/>
<rect x="56.09" y="237.00" width="10.32" height="3.10" fill="#f7d798"/>
<rect x="65.62" y="237.00" width="10.32" height="3.10" fill="#f7d798"/>
<rect x="75.14" y="237.00" width="10.32" height="3.10" fill="#f7d798"/>
<rect x="84.66" y="237.00" width="10.32" height="3.10" fill="#f7d798"/>
<rect x="94.18" y="237.00" width="10.32" height="3.10" fill="#f7d798"/>
<rect x="103.71" y="237.00" width="10.32" height="3.10" fill="#f7d798"/>
<rect x="113.23" y="237.00" width="10.32" height="3.10" fill="#f7d698"/>
<rect x="122.75" y="237.00" width="10.32" height="3.10" fill="#f7d698"/>
<rect x="132.28" y="237.00" width="9.52" height="3.10" fill="#f7d698"/>
<rect x="27.52" y="239.80" width="10.32" height="3.50" fill="#f0aa6a"/>
<rect x="37.05" y="239.80" width="10.32" height="3.50" fill="#f0ab6b"/>
<rect x="46.57" y="239.80" width="10.32" height="3.50" fill="#f0ab6c"/>
<rect x="56.09" y="239.80" width="10.32" height="3.50" fill="#f0ac6d"/>
<rect x="65.62" y="239.80" width="10.32" height="3.50" fill="#f0ac6e"/>
<rect x="75.14" y="239.80" width="10.32" height="3.50" fill="#f0ad6f"/>
<rect x="84.66" y="239.80" width="10.32" height="3.50" fill="#f0ad6f"/>
<rect x="94.18" y="239.80" width="10.32" height="3.50" fill="#f0ae70"/>
<rect x="103.71" y="239.80" width="10.32" height="3.50" fill="#f0ae71"/>
<rect x="113.23" y="239.80" width="10.32" height="3.50" fill="#f0af72"/>
<rect x="122.75" y="239.80" width="10.32" height="3.50" fill="#f0af73"/>
<rect x="132.28" y="239.80" width="9.52" height="3.50" fill="#f0b074"/>
<rect x="27.52" y="243.00" width="10.32" height="3.10" fill="#f2b676"/>
<rect x="37.05" y="243.00" width="10.32" height="3.10" fill="#f2b878"/>
<rect x="46.57" y="243.00" width="10.32" height="3.10" fill="#f3b97a"/>
<rect x="56.09" y="243.00" width="10.32" height="3.10" fill="#f3bb7b"/>
<rect x="65.62" y="243.00" width="10.32" height="3.10" fill="#f3bd7d"/>
<rect x="75.14" y="243.00" width="10.32" height="3.10" fill="#f3be7f"/>
<rect x="84.66" y="243.00" width="10.32" height="3.10" fill="#f4c081"/>
<rect x="94.18" y="243.00" width="10.32" height="3.10" fill="#f4c183"/>
<rect x="103.71" y="243.00" width="10.32" height="3.10" fill="#f4c385"/>
<rect x="113.23" y="243.00" width="10.32" height="3.10" fill="#f4c586"/>
<rect x="122.75" y="243.00" width="10.32" height="3.10" fill="#f5c688"/>
<rect x="132.28" y="243.00" width="9.52" height="3.10" fill="#f5c88a"/>
<rect x="27.52" y="245.80" width="10.32" height="4.20" fill="#f5cb8c"/>
<rect x="37.05" y="245.80" width="10.32" height="4.20" fill="#f5cd8e"/>
<rect x="46.57" y="245.80" width="10.32" height="4.20" fill="#f6ce90"/>
<rect x="56.09" y="245.80" width="10.32" height="4.20" fill="#f6d091"/>
<rect x="65.62" y="245.80" width="10.32" height="4.20" fill="#f6d193"/>
<rect x="75.14" y="245.80" width="10.32" height="4.20" fill="#f6d395"/>
<rect x="84.66" y="245.80" width="10.32" height="4.20" fill="#f7d497"/>
<rect x="94.18" y="245.80" width="10.32" height="4.20" fill="#f7d699"/>
<rect x="103.71" y="245.80" width="10.32" height="4.20" fill="#f7d79b"/>
<rect x="113.23" y="245.80" width="10.32" height="4.20" fill="#f7d99c"/>
<rect x="122.75" y="245.80" width="10.32" height="4.20" fill="#f8da9e"/>
<rect x="132.28" y="245.80" width="9.52" height="4.20" fill="#f8dca0"/>
<rect x="27.52" y="249.70" width="10.32" height="8.30" fill="#fbf0cc"/>
<rect x="37.05" y="249.70" width="10.32" height="8.30" fill="#fbefc9"/>
<rect x="46.57" y="249.70" width="10.32" height="8.30" fill="#fbeec7"/>
<rect x="56.09" y="249.70" width="10.32" height="8.30" fill="#faedc4"/>
<rect x="65.62" y="249.70" width="10.32" height="8.30" fill="#faecc2"/>
<rect x="75.14" y="249.70" width="10.32" height="8.30" fill="#faebbf"/>
<rect x="84.66" y="249.70" width="10.32" height="8.30" fill="#fae9bd"/>
<rect x="94.18" y="249.70" width="10.32" height="8.30" fill="#fae8ba"/>
<rect x="103.71" y="249.70" width="10.32" height="8.30" fill="#fae7b8"/>
<rect x="113.23" y="249.70" width="10.32" height="8.30" fill="#f9e6b5"/>
<rect x="122.75" y="249.70" width="10.32" height="8.30" fill="#f9e5b3"/>
<rect x="132.28" y="249.70" width="9.52" height="8.30" fill="#f9e4b0"/>
<rect x="27.52" y="257.70" width="10.32" height="3.60" fill="#f6d093"/>
<rect x="37.05" y="257.70" width="10.32" height="3.60" fill="#f6cf92"/>
<rect x="46.57" y="257.70" width="10.32" height="3.60" fill="#f6ce91"/>
<rect x="56.09" y="257.70" width="10.32" height="3.60" fill="#f5cd8f"/>
<rect x="65.62" y="257.70" width="10.32" height="3.60" fill="#f5cc8e"/>
<rect x="75.14" y="257.70" width="10.32" height="3.60" fill="#f5cb8d"/>
<rect x="84.66" y="257.70" width="10.32" height="3.60" fill="#f5c98c"/>
<rect x="94.18" y="257.70" width="10.32" height="3.60" fill="#f5c88b"/>
<rect x="103.71" y="257.70" width="10.32" height="3.60" fill="#f5c78a"/>
<rect x="113.23" y="257.70" width="10.32" height="3.60" fill="#f4c688"/>
<rect x="122.75" y="257.70" width="10.32" height="3.60" fill="#f4c587"/>
<rect x="132.28" y="257.70" width="9.52" height="3.60" fill="#f4c486"/>
<rect x="27.52" y="261.00" width="10.32" height="3.80" fill="#f1ae70"/>
<rect x="37.05" y="261.00" width="10.32" height="3.80" fill="#f1ac6e"/>
<rect x="46.57" y="261.00" width="10.32" height="3.80" fill="#f0aa6c"/>
<rect x="56.09" y="261.00" width="10.32" height="3.80" fill="#f0a86b"/>
<rect x="65.62" y="261.00" width="10.32" height="3.80" fill="#efa669"/>
<rect x="75.14" y="261.00" width="10.32" height="3.80" fill="#efa467"/>
<rect x="84.66" y="261.00" width="10.32" height="3.80" fill="#eea265"/>
<rect x="94.18" y="261.00" width="10.32" height="3.80" fill="#eea063"/>
<rect x="103.71" y="261.00" width="10.32" height="3.80" fill="#ed9e61"/>
<rect x="113.23" y="261.00" width="10.32" height="3.80" fill="#ed9c60"/>
<rect x="122.75" y="261.00" width="10.32" height="3.80" fill="#ec9a5e"/>
<rect x="132.28" y="261.00" width="9.52" height="3.80" fill="#ec985c"/>
<rect x="27.52" y="264.50" width="10.32" height="3.80" fill="#ee9c60"/>
<rect x="37.05" y="264.50" width="10.32" height="3.80" fill="#ed995e"/>
<rect x="46.57" y="264.50" width="10.32" height="3.80" fill="#ec955c"/>
<rect x="56.09" y="264.50" width="10.32" height="3.80" fill="#ec925a"/>
<rect x="65.62" y="264.50" width="10.32" height="3.80" fill="#eb8e58"/>
<rect x="75.14" y="264.50" width="10.32" height="3.80" fill="#ea8b56"/>
<rect x="84.66" y="264.50" width="10.32" height="3.80" fill="#e98754"/>
<rect x="94.18" y="264.50" width="10.32" height="3.80" fill="#e88452"/>
<rect x="103.71" y="264.50" width="10.32" height="3.80" fill="#e78050"/>
<rect x="113.23" y="264.50" width="10.32" height="3.80" fill="#e77d4e"/>
<rect x="122.75" y="264.50" width="10.32" height="3.80" fill="#e6794c"/>
<rect x="132.28" y="264.50" width="9.52" height="3.80" fill="#e5764a"/>
<rect x="27.52" y="268.00" width="10.32" height="5.90" fill="#ec9258"/>
<rect x="37.05" y="268.00" width="10.32" height="5.90" fill="#eb8e56"/>
<rect x="46.57" y="268.00" width="10.32" height="5.90" fill="#ea8a53"/>
<rect x="56.09" y="268.00" width="10.32" height="5.90" fill="#e98751"/>
<rect x="65.62" y="268.00" width="10.32" height="5.90" fill="#e8834f"/>
<rect x="75.14" y="268.00" width="10.32" height="5.90" fill="#e77f4c"/>
<rect x="84.66" y="268.00" width="10.32" height="5.90" fill="#e57b4a"/>
<rect x="94.18" y="268.00" width="10.32" height="5.90" fill="#e47747"/>
<rect x="103.71" y="268.00" width="10.32" height="5.90" fill="#e37345"/>
<rect x="113.23" y="268.00" width="10.32" height="5.90" fill="#e27043"/>
<rect x="122.75" y="268.00" width="10.32" height="5.90" fill="#e16c40"/>
<rect x="132.28" y="268.00" width="9.52" height="5.90" fill="#e0683e"/>
<rect x="27.52" y="273.60" width="10.32" height="7.70" fill="#fbedc0"/>
<rect x="37.05" y="273.60" width="10.32" height="7.70" fill="#fbedc1"/>
<rect x="46.57" y="273.60" width="10.32" height="7.70" fill="#fbeec1"/>
<rect x="56.09" y="273.60" width="10.32" height="7.70" fill="#fbeec2"/>
<rect x="65.62" y="273.60" width="10.32" height="7.70" fill="#fbeec3"/>
<rect x="75.14" y="273.60" width="10.32" height="7.70" fill="#fbeec4"/>
<rect x="84.66" y="273.60" width="10.32" height="7.70" fill="#fbefc4"/>
<rect x="94.18" y="273.60" width="10.32" height="7.70" fill="#fbefc5"/>
<rect x="103.71" y="273.60" width="10.32" height="7.70" fill="#fbefc6"/>
<rect x="113.23" y="273.60" width="10.32" height="7.70" fill="#fbefc7"/>
<rect x="122.75" y="273.60" width="10.32" height="7.70" fill="#fbf0c7"/>
<rect x="132.28" y="273.60" width="9.52" height="7.70" fill="#fbf0c8"/>
<rect x="27.52" y="281.00" width="10.32" height="3.30" fill="#dbe2dc"/>
<rect x="37.05" y="281.00" width="10.32" height="3.30" fill="#dae1dd"/>
<rect x="46.57" y="281.00" width="10.32" height="3.30" fill="#d9e1de"/>
<rect x="56.09" y="281.00" width="10.32" height="3.30" fill="#d8e0df"/>
<rect x="65.62" y="281.00" width="10.32" height="3.30" fill="#d7dfe0"/>
<rect x="75.14" y="281.00" width="10.32" height="3.30" fill="#d6dfe1"/>
<rect x="84.66" y="281.00" width="10.32" height="3.30" fill="#d4dee1"/>
<rect x="94.18" y="281.00" width="10.32" height="3.30" fill="#d3dee2"/>
<rect x="103.71" y="281.00" width="10.32" height="3.30" fill="#d2dde3"/>
<rect x="113.23" y="281.00" width="10.32" height="3.30" fill="#d1dce4"/>
<rect x="122.75" y="281.00" width="10.32" height="3.30" fill="#d0dce5"/>
<rect x="132.28" y="281.00" width="9.52" height="3.30" fill="#cfdbe6"/>
<rect x="37.05" y="284.00" width="104.75" height="43.20" fill="#5677ba"/>
<rect x="37.05" y="239.50" width="47.62" height="6.00" fill="#eb9860" opacity="0.45"/>
<rect x="37.05" y="234.50" width="28.57" height="3.00" fill="#eb9860" opacity="0.35"/>
<rect x="65.62" y="237.90" width="9.52" height="1.60" fill="#fcf4dc"/>
<rect x="37.05" y="250.00" width="22.86" height="7.50" fill="#fdf8e8"/>
<rect x="90.38" y="250.50" width="19.05" height="6.00" fill="#fcf4dc"/>
<rect x="37.05" y="254.60" width="19.05" height="0.90" fill="#c8d4e4"/>
<rect x="56.89" y="255.90" width="8.60" height="3.60" fill="#4467b0"/>
<rect x="123.05" y="273.40" width="8.80" height="1.30" fill="#5272b6"/>
<rect x="113.23" y="275.80" width="9.00" height="1.10" fill="#a8bcd8"/>
<rect x="103.71" y="281.00" width="9.52" height="3.00" fill="#5677ba"/>
<rect x="75.14" y="285.60" width="17.00" height="1.40" fill="#86a1d0"/>
<rect x="95.18" y="287.40" width="9.20" height="3.60" fill="#b0c4e2"/>
<rect x="75.14" y="290.60" width="10.00" height="1.00" fill="#7e98ca"/>
<rect x="65.62" y="298.60" width="39.00" height="1.30" fill="#98b0d8"/>
<rect x="114.23" y="290.80" width="11.00" height="0.90" fill="#7390c8"/>
<rect x="70.62" y="286.50" width="5.00" height="1.00" fill="#7492c8"/>
<rect x="27.52" y="249.70" width="9.52" height="15.50" fill="#5677ba"/>
<rect x="27.52" y="265.20" width="9.52" height="33.30" fill="#f6cc8a"/>
<rect x="28.52" y="265.20" width="2.50" height="33.30" fill="#f1bc7a"/>
<rect x="27.52" y="268.50" width="9.52" height="1.60" fill="#ea9a5c"/>
<rect x="27.52" y="272.00" width="9.52" height="1.60" fill="#ea9a5c"/>
<rect x="27.52" y="276.50" width="9.52" height="1.60" fill="#ea9a5c"/>
<rect x="27.52" y="281.00" width="9.52" height="1.60" fill="#ea9a5c"/>
<rect x="27.52" y="286.50" width="9.52" height="1.60" fill="#ea9a5c"/>
<rect x="27.52" y="292.50" width="9.52" height="1.60" fill="#ea9a5c"/>
<rect x="37.05" y="274.00" width="9.52" height="10.00" fill="#f4c888" opacity="0.8"/>
<rect x="27.52" y="298.50" width="9.52" height="28.70" fill="#5677ba"/>
<rect x="27.52" y="224.60" width="9.52" height="2.40" fill="#7f98c8"/>
<rect x="18.00" y="224.60" width="9.52" height="74.70" fill="#5677ba"/>
<rect x="18.00" y="224.60" width="9.52" height="3.40" fill="#7f9dd0"/>
<rect x="18.00" y="299.30" width="9.52" height="27.90" fill="#f8da96"/>
<rect x="18.80" y="299.30" width="3.00" height="27.90" fill="#f3c480"/>
<rect x="22.60" y="299.30" width="1.10" height="27.90" fill="#c47a3c"/>
<rect x="18.00" y="299.50" width="9.52" height="3.00" fill="#eea05e"/>
<rect x="103.91" y="224.60" width="9.00" height="1.60" fill="#3f5ca2"/>
<rect x="31.83" y="227.30" width="1.50" height="2.00" fill="#7a4a20" opacity="0.62"/>
<rect x="41.36" y="227.30" width="1.50" height="2.00" fill="#7a4a20" opacity="0.62"/>
<rect x="60.40" y="227.30" width="1.50" height="2.00" fill="#7a4a20" opacity="0.62"/>
<rect x="69.93" y="227.30" width="1.50" height="2.00" fill="#7a4a20" opacity="0.62"/>
<rect x="79.45" y="227.30" width="1.50" height="2.00" fill="#7a4a20" opacity="0.62"/>
<rect x="88.97" y="227.30" width="1.50" height="2.00" fill="#7a4a20" opacity="0.62"/>
<rect x="98.50" y="227.30" width="1.50" height="2.00" fill="#7a4a20" opacity="0.62"/>
<rect x="108.02" y="227.30" width="1.50" height="2.00" fill="#7a4a20" opacity="0.62"/>
<rect x="117.54" y="227.30" width="1.50" height="2.00" fill="#7a4a20" opacity="0.62"/>
<rect x="127.07" y="227.30" width="1.50" height="2.00" fill="#7a4a20" opacity="0.62"/>
<rect x="136.59" y="227.30" width="1.50" height="2.00" fill="#7a4a20" opacity="0.62"/>
<rect x="41.36" y="230.50" width="1.50" height="2.00" fill="#7a4a20" opacity="0.62"/>
<rect x="60.40" y="230.50" width="1.50" height="2.00" fill="#7a4a20" opacity="0.62"/>
<rect x="69.93" y="230.50" width="1.50" height="2.00" fill="#7a4a20" opacity="0.62"/>
<rect x="108.02" y="230.50" width="1.50" height="2.00" fill="#7a4a20" opacity="0.62"/>
<rect x="127.07" y="230.50" width="1.50" height="2.00" fill="#7a4a20" opacity="0.62"/>
<rect x="41.36" y="275.50" width="1.50" height="2.00" fill="#7a4a20" opacity="0.62"/>
<rect x="50.88" y="275.50" width="1.50" height="2.00" fill="#7a4a20" opacity="0.62"/>
<rect x="60.40" y="275.50" width="1.50" height="2.00" fill="#7a4a20" opacity="0.62"/>
<rect x="88.97" y="275.50" width="1.50" height="2.00" fill="#7a4a20" opacity="0.62"/>
<rect x="136.59" y="275.50" width="1.50" height="2.00" fill="#7a4a20" opacity="0.62"/>
<rect x="41.36" y="278.00" width="1.50" height="2.00" fill="#7a4a20" opacity="0.62"/>
<rect x="50.88" y="278.00" width="1.50" height="2.00" fill="#7a4a20" opacity="0.62"/>
<rect x="108.02" y="278.00" width="1.50" height="2.00" fill="#7a4a20" opacity="0.62"/>
<rect x="136.59" y="278.00" width="1.50" height="2.00" fill="#7a4a20" opacity="0.62"/>
<rect x="41.56" y="229.50" width="1.10" height="44.10" fill="#94461a" opacity="0.72"/>
<rect x="51.08" y="229.50" width="1.10" height="44.10" fill="#94461a" opacity="0.72"/>
<rect x="60.60" y="229.50" width="1.10" height="44.10" fill="#94461a" opacity="0.72"/>
<rect x="70.13" y="229.50" width="1.10" height="44.10" fill="#94461a" opacity="0.72"/>
<rect x="79.65" y="229.50" width="1.10" height="44.10" fill="#94461a" opacity="0.72"/>
<rect x="89.17" y="229.50" width="1.10" height="44.10" fill="#94461a" opacity="0.72"/>
<rect x="98.70" y="229.50" width="1.10" height="44.10" fill="#94461a" opacity="0.72"/>
<rect x="108.22" y="229.50" width="1.10" height="44.10" fill="#94461a" opacity="0.72"/>
<rect x="117.74" y="229.50" width="1.10" height="44.10" fill="#94461a" opacity="0.72"/>
<rect x="127.27" y="229.50" width="1.10" height="44.10" fill="#94461a" opacity="0.72"/>
<rect x="136.79" y="229.50" width="1.10" height="44.10" fill="#94461a" opacity="0.72"/>
<rect x="32.03" y="227.50" width="1.10" height="22.00" fill="#94461a" opacity="0.5"/>
<rect x="32.03" y="266.00" width="1.10" height="32.00" fill="#94461a" opacity="0.5"/>
<rect x="41.56" y="273.60" width="1.10" height="9.90" fill="#94461a" opacity="0.2"/>
<rect x="51.08" y="273.60" width="1.10" height="9.90" fill="#94461a" opacity="0.2"/>
<rect x="60.60" y="273.60" width="1.10" height="9.90" fill="#94461a" opacity="0.2"/>
<rect x="70.13" y="273.60" width="1.10" height="9.90" fill="#94461a" opacity="0.2"/>
<rect x="79.65" y="273.60" width="1.10" height="9.90" fill="#94461a" opacity="0.2"/>
<rect x="89.17" y="273.60" width="1.10" height="9.90" fill="#94461a" opacity="0.2"/>
<rect x="98.70" y="273.60" width="1.10" height="9.90" fill="#94461a" opacity="0.2"/>
<rect x="108.22" y="273.60" width="1.10" height="9.90" fill="#94461a" opacity="0.2"/>
<rect x="117.74" y="273.60" width="1.10" height="9.90" fill="#94461a" opacity="0.2"/>
<rect x="127.27" y="273.60" width="1.10" height="9.90" fill="#94461a" opacity="0.2"/>
<rect x="136.79" y="273.60" width="1.10" height="9.90" fill="#94461a" opacity="0.2"/>
</g>
<rect x="18.00" y="224.60" width="123.80" height="102.60" fill="none" stroke="#1c1c1c" stroke-width="0.9"/>
<text x="65.40" y="57.00" font-size="8.8" textLength="28.80" lengthAdjust="spacingAndGlyphs" stroke="#111" stroke-width="0.2">ZH33 Gr</text>
<text x="65.40" y="220.20" font-size="8.8" textLength="28.80" lengthAdjust="spacingAndGlyphs" stroke="#111" stroke-width="0.2">ZG66 Gr</text>
<text x="14.20" y="149.90" font-size="7.1" textLength="73.30" lengthAdjust="spacingAndGlyphs" transform="rotate(-90 14.20 149.90)" stroke="#111" stroke-width="0.2">High-contributing clones</text>
<text x="14.20" y="312.80" font-size="7.1" textLength="73.30" lengthAdjust="spacingAndGlyphs" transform="rotate(-90 14.20 312.80)" stroke="#111" stroke-width="0.2">High-contributing clones</text>
<text x="24.42" y="167.50" font-size="5.0" text-anchor="end" transform="rotate(-90 24.42 167.50)" stroke="#111" stroke-width="0.3">1</text>
<text x="32.66" y="167.50" font-size="5.0" text-anchor="end" transform="rotate(-90 32.66 167.50)" stroke="#111" stroke-width="0.3">2</text>
<text x="40.90" y="167.50" font-size="5.0" text-anchor="end" transform="rotate(-90 40.90 167.50)" stroke="#111" stroke-width="0.3">3</text>
<text x="49.14" y="167.50" font-size="5.0" text-anchor="end" transform="rotate(-90 49.14 167.50)" stroke="#111" stroke-width="0.3">4.5</text>
<text x="57.38" y="167.50" font-size="5.0" text-anchor="end" transform="rotate(-90 57.38 167.50)" stroke="#111" stroke-width="0.3">6.5</text>
<text x="65.62" y="167.50" font-size="5.0" text-anchor="end" transform="rotate(-90 65.62 167.50)" stroke="#111" stroke-width="0.3">9.5</text>
<text x="73.86" y="167.50" font-size="5.0" text-anchor="end" transform="rotate(-90 73.86 167.50)" stroke="#111" stroke-width="0.3">12</text>
<text x="82.10" y="167.50" font-size="5.0" text-anchor="end" transform="rotate(-90 82.10 167.50)" stroke="#111" stroke-width="0.3">14</text>
<text x="90.34" y="167.50" font-size="5.0" text-anchor="end" transform="rotate(-90 90.34 167.50)" stroke="#111" stroke-width="0.3">21</text>
<text x="98.58" y="167.50" font-size="5.0" text-anchor="end" transform="rotate(-90 98.58 167.50)" stroke="#111" stroke-width="0.3">26</text>
<text x="106.82" y="167.50" font-size="5.0" text-anchor="end" transform="rotate(-90 106.82 167.50)" stroke="#111" stroke-width="0.3">30</text>
<text x="115.06" y="167.50" font-size="5.0" text-anchor="end" transform="rotate(-90 115.06 167.50)" stroke="#111" stroke-width="0.3">36</text>
<text x="123.30" y="167.50" font-size="5.0" text-anchor="end" transform="rotate(-90 123.30 167.50)" stroke="#111" stroke-width="0.3">43</text>
<text x="131.54" y="167.50" font-size="5.0" text-anchor="end" transform="rotate(-90 131.54 167.50)" stroke="#111" stroke-width="0.3">46</text>
<text x="139.78" y="167.50" font-size="5.0" text-anchor="end" transform="rotate(-90 139.78 167.50)" stroke="#111" stroke-width="0.3">49</text>
<text x="24.86" y="330.30" font-size="5.0" text-anchor="end" transform="rotate(-90 24.86 330.30)" stroke="#111" stroke-width="0.3">1</text>
<text x="34.38" y="330.30" font-size="5.0" text-anchor="end" transform="rotate(-90 34.38 330.30)" stroke="#111" stroke-width="0.3">2</text>
<text x="43.91" y="330.30" font-size="5.0" text-anchor="end" transform="rotate(-90 43.91 330.30)" stroke="#111" stroke-width="0.3">3</text>
<text x="53.43" y="330.30" font-size="5.0" text-anchor="end" transform="rotate(-90 53.43 330.30)" stroke="#111" stroke-width="0.3">4.5</text>
<text x="62.95" y="330.30" font-size="5.0" text-anchor="end" transform="rotate(-90 62.95 330.30)" stroke="#111" stroke-width="0.3">6.5</text>
<text x="72.48" y="330.30" font-size="5.0" text-anchor="end" transform="rotate(-90 72.48 330.30)" stroke="#111" stroke-width="0.3">12</text>
<text x="82.00" y="330.30" font-size="5.0" text-anchor="end" transform="rotate(-90 82.00 330.30)" stroke="#111" stroke-width="0.3">14.5</text>
<text x="91.52" y="330.30" font-size="5.0" text-anchor="end" transform="rotate(-90 91.52 330.30)" stroke="#111" stroke-width="0.3">17</text>
<text x="101.05" y="330.30" font-size="5.0" text-anchor="end" transform="rotate(-90 101.05 330.30)" stroke="#111" stroke-width="0.3">22</text>
<text x="110.57" y="330.30" font-size="5.0" text-anchor="end" transform="rotate(-90 110.57 330.30)" stroke="#111" stroke-width="0.3">24</text>
<text x="120.09" y="330.30" font-size="5.0" text-anchor="end" transform="rotate(-90 120.09 330.30)" stroke="#111" stroke-width="0.3">27</text>
<text x="129.62" y="330.30" font-size="5.0" text-anchor="end" transform="rotate(-90 129.62 330.30)" stroke="#111" stroke-width="0.3">36</text>
<text x="139.14" y="330.30" font-size="5.0" text-anchor="end" transform="rotate(-90 139.14 330.30)" stroke="#111" stroke-width="0.3">42</text>
<text x="45.00" y="187.70" font-size="7.4" textLength="70.00" lengthAdjust="spacingAndGlyphs" stroke="#111" stroke-width="0.2">Months post-transplant</text>
<text x="45.00" y="353.70" font-size="7.4" textLength="70.00" lengthAdjust="spacingAndGlyphs" stroke="#111" stroke-width="0.2">Months post-transplant</text>
<path d="M177.00 50.00V163.90H297.20" stroke="#111" stroke-width="1.4" fill="none"/>
<path d="M174.40 53.40H177.00" stroke="#111" stroke-width="1"/>
<text x="171.20" y="55.20" font-size="5.0" text-anchor="end" stroke="#111" stroke-width="0.3">1</text>
<path d="M174.40 74.72H177.00" stroke="#111" stroke-width="1"/>
<text x="171.20" y="76.52" font-size="5.0" text-anchor="end" stroke="#111" stroke-width="0.3">0.8</text>
<path d="M174.40 96.04H177.00" stroke="#111" stroke-width="1"/>
<text x="171.20" y="97.84" font-size="5.0" text-anchor="end" stroke="#111" stroke-width="0.3">0.6</text>
<path d="M174.40 117.36H177.00" stroke="#111" stroke-width="1"/>
<text x="171.20" y="119.16" font-size="5.0" text-anchor="end" stroke="#111" stroke-width="0.3">0.4</text>
<path d="M174.40 138.68H177.00" stroke="#111" stroke-width="1"/>
<text x="171.20" y="140.48" font-size="5.0" text-anchor="end" stroke="#111" stroke-width="0.3">0.2</text>
<path d="M174.40 160.00H177.00" stroke="#111" stroke-width="1"/>
<text x="171.20" y="161.80" font-size="5.0" text-anchor="end" stroke="#111" stroke-width="0.3">0</text>
<text x="159.80" y="161.50" font-size="4.2" textLength="6.00" lengthAdjust="spacingAndGlyphs" stroke="#111" stroke-width="0.15">&lt;=</text>
<path d="M181.50 163.90V166.70" stroke="#111" stroke-width="1.2"/>
<text x="183.40" y="169.90" font-size="5.5" text-anchor="end" transform="rotate(-90 183.40 169.90)" stroke="#111" stroke-width="0.3">1</text>
<path d="M189.56 163.90V166.70" stroke="#111" stroke-width="1.2"/>
<text x="191.46" y="169.90" font-size="5.5" text-anchor="end" transform="rotate(-90 191.46 169.90)" stroke="#111" stroke-width="0.3">2</text>
<path d="M197.63 163.90V166.70" stroke="#111" stroke-width="1.2"/>
<text x="199.53" y="169.90" font-size="5.5" text-anchor="end" transform="rotate(-90 199.53 169.90)" stroke="#111" stroke-width="0.3">3</text>
<path d="M205.69 163.90V166.70" stroke="#111" stroke-width="1.2"/>
<text x="207.59" y="169.90" font-size="5.5" text-anchor="end" transform="rotate(-90 207.59 169.90)" stroke="#111" stroke-width="0.3">4.5</text>
<path d="M213.76 163.90V166.70" stroke="#111" stroke-width="1.2"/>
<text x="215.66" y="169.90" font-size="5.5" text-anchor="end" transform="rotate(-90 215.66 169.90)" stroke="#111" stroke-width="0.3">6.5</text>
<path d="M221.82 163.90V166.70" stroke="#111" stroke-width="1.2"/>
<text x="223.72" y="169.90" font-size="5.5" text-anchor="end" transform="rotate(-90 223.72 169.90)" stroke="#111" stroke-width="0.3">9.5</text>
<path d="M229.88 163.90V166.70" stroke="#111" stroke-width="1.2"/>
<text x="231.78" y="169.90" font-size="5.5" text-anchor="end" transform="rotate(-90 231.78 169.90)" stroke="#111" stroke-width="0.3">12</text>
<path d="M237.95 163.90V166.70" stroke="#111" stroke-width="1.2"/>
<text x="239.85" y="169.90" font-size="5.5" text-anchor="end" transform="rotate(-90 239.85 169.90)" stroke="#111" stroke-width="0.3">14</text>
<path d="M246.01 163.90V166.70" stroke="#111" stroke-width="1.2"/>
<text x="247.91" y="169.90" font-size="5.5" text-anchor="end" transform="rotate(-90 247.91 169.90)" stroke="#111" stroke-width="0.3">21</text>
<path d="M254.08 163.90V166.70" stroke="#111" stroke-width="1.2"/>
<text x="255.98" y="169.90" font-size="5.5" text-anchor="end" transform="rotate(-90 255.98 169.90)" stroke="#111" stroke-width="0.3">26</text>
<path d="M262.14 163.90V166.70" stroke="#111" stroke-width="1.2"/>
<text x="264.04" y="169.90" font-size="5.5" text-anchor="end" transform="rotate(-90 264.04 169.90)" stroke="#111" stroke-width="0.3">30</text>
<path d="M270.20 163.90V166.70" stroke="#111" stroke-width="1.2"/>
<text x="272.10" y="169.90" font-size="5.5" text-anchor="end" transform="rotate(-90 272.10 169.90)" stroke="#111" stroke-width="0.3">36</text>
<path d="M278.27 163.90V166.70" stroke="#111" stroke-width="1.2"/>
<text x="280.17" y="169.90" font-size="5.5" text-anchor="end" transform="rotate(-90 280.17 169.90)" stroke="#111" stroke-width="0.3">43</text>
<path d="M286.33 163.90V166.70" stroke="#111" stroke-width="1.2"/>
<text x="288.23" y="169.90" font-size="5.5" text-anchor="end" transform="rotate(-90 288.23 169.90)" stroke="#111" stroke-width="0.3">46</text>
<path d="M294.40 163.90V166.70" stroke="#111" stroke-width="1.2"/>
<text x="296.30" y="169.90" font-size="5.5" text-anchor="end" transform="rotate(-90 296.30 169.90)" stroke="#111" stroke-width="0.3">49</text>
<path d="M181.50 53.40 L189.56 160.00 L197.63 160.00 L205.69 160.00 L213.76 160.00 L221.82 160.00 L229.88 160.00 L237.95 160.00 L246.01 160.00 L254.08 160.00 L262.14 160.00 L270.20 160.00 L278.27 160.00 L286.33 160.00 L294.40 160.00" stroke="#b8582c" stroke-width="0.55" fill="none" opacity="0.6"/>
<path d="M189.56 53.40 L197.63 78.98 L205.69 78.98 L213.76 84.85 L221.82 89.96 L229.88 93.16 L237.95 94.55 L246.01 96.68 L254.08 105.53 L262.14 108.19 L270.20 110.32 L278.27 111.28 L286.33 113.10 L294.40 114.16" stroke="#c89440" stroke-width="0.55" fill="none" opacity="0.6"/>
<path d="M197.63 53.40 L205.69 68.96 L213.76 80.69 L221.82 81.22 L229.88 88.79 L237.95 90.82 L246.01 91.35 L254.08 98.49 L262.14 98.49 L270.20 104.99 L278.27 104.99 L286.33 104.99 L294.40 102.86" stroke="#e6c44a" stroke-width="0.55" fill="none" opacity="0.6"/>
<path d="M205.69 53.40 L213.76 62.35 L221.82 65.87 L229.88 70.46 L237.95 72.48 L246.01 73.12 L254.08 79.73 L262.14 81.22 L270.20 81.76 L278.27 82.72 L286.33 84.31 L294.40 88.90" stroke="#e0e070" stroke-width="0.55" fill="none" opacity="0.6"/>
<path d="M213.76 53.40 L221.82 61.71 L229.88 65.34 L237.95 66.41 L246.01 68.96 L254.08 75.57 L262.14 78.98 L270.20 80.05 L278.27 81.12 L286.33 83.25 L294.40 86.45" stroke="#c6e066" stroke-width="0.55" fill="none" opacity="0.6"/>
<path d="M221.82 53.40 L229.88 59.05 L237.95 59.48 L246.01 59.80 L254.08 66.83 L262.14 67.90 L270.20 69.39 L278.27 71.95 L286.33 73.12 L294.40 77.92" stroke="#a6d862" stroke-width="0.55" fill="none" opacity="0.6"/>
<path d="M229.88 53.40 L237.95 55.64 L246.01 57.66 L254.08 63.85 L262.14 62.35 L270.20 65.87 L278.27 68.43 L286.33 69.92 L294.40 74.08" stroke="#80cf5e" stroke-width="0.55" fill="none" opacity="0.6"/>
<path d="M237.95 53.40 L246.01 56.17 L254.08 59.26 L262.14 62.35 L270.20 65.87 L278.27 67.26 L286.33 68.32 L294.40 72.59" stroke="#8cd48c" stroke-width="0.55" fill="none" opacity="0.6"/>
<path d="M246.01 53.40 L254.08 57.66 L262.14 59.80 L270.20 61.93 L278.27 64.06 L286.33 65.34 L294.40 69.39" stroke="#9ad8b4" stroke-width="0.55" fill="none" opacity="0.6"/>
<path d="M254.08 53.40 L262.14 57.66 L270.20 61.93 L278.27 61.93 L286.33 64.06 L294.40 67.26" stroke="#a8dce4" stroke-width="0.55" fill="none" opacity="0.6"/>
<path d="M262.14 53.40 L270.20 62.35 L278.27 60.86 L286.33 60.22 L294.40 64.06" stroke="#7a9cc4" stroke-width="0.55" fill="none" opacity="0.6"/>
<path d="M270.20 53.40 L278.27 57.66 L286.33 58.73 L294.40 60.86" stroke="#3448c4" stroke-width="0.55" fill="none" opacity="0.6"/>
<path d="M278.27 53.40 L286.33 56.07 L294.40 60.33" stroke="#1c1ca8" stroke-width="0.55" fill="none" opacity="0.6"/>
<path d="M286.33 53.40 L294.40 57.66" stroke="#20208e" stroke-width="0.55" fill="none" opacity="0.6"/>
<circle cx="181.50" cy="53.40" r="1.35" fill="#a24f28" opacity="0.9"/>
<circle cx="189.56" cy="160.00" r="1.35" fill="#a24f28" opacity="0.9"/>
<circle cx="197.63" cy="160.00" r="1.35" fill="#a24f28" opacity="0.9"/>
<circle cx="205.69" cy="160.00" r="1.35" fill="#a24f28" opacity="0.9"/>
<circle cx="213.76" cy="160.00" r="1.35" fill="#a24f28" opacity="0.9"/>
<circle cx="221.82" cy="160.00" r="1.35" fill="#a24f28" opacity="0.9"/>
<circle cx="229.88" cy="160.00" r="1.35" fill="#a24f28" opacity="0.9"/>
<circle cx="237.95" cy="160.00" r="1.35" fill="#a24f28" opacity="0.9"/>
<circle cx="246.01" cy="160.00" r="1.35" fill="#a24f28" opacity="0.9"/>
<circle cx="254.08" cy="160.00" r="1.35" fill="#a24f28" opacity="0.9"/>
<circle cx="262.14" cy="160.00" r="1.35" fill="#a24f28" opacity="0.9"/>
<circle cx="270.20" cy="160.00" r="1.35" fill="#a24f28" opacity="0.9"/>
<circle cx="278.27" cy="160.00" r="1.35" fill="#a24f28" opacity="0.9"/>
<circle cx="286.33" cy="160.00" r="1.35" fill="#a24f28" opacity="0.9"/>
<circle cx="294.40" cy="160.00" r="1.35" fill="#a24f28" opacity="0.9"/>
<circle cx="189.56" cy="53.40" r="1.35" fill="#c89440" opacity="0.9"/>
<circle cx="197.63" cy="78.98" r="1.35" fill="#c89440" opacity="0.9"/>
<circle cx="205.69" cy="78.98" r="1.35" fill="#c89440" opacity="0.9"/>
<circle cx="213.76" cy="84.85" r="1.35" fill="#c89440" opacity="0.9"/>
<circle cx="221.82" cy="89.96" r="1.35" fill="#c89440" opacity="0.9"/>
<circle cx="229.88" cy="93.16" r="1.35" fill="#c89440" opacity="0.9"/>
<circle cx="237.95" cy="94.55" r="1.35" fill="#c89440" opacity="0.9"/>
<circle cx="246.01" cy="96.68" r="1.35" fill="#c89440" opacity="0.9"/>
<circle cx="254.08" cy="105.53" r="1.35" fill="#c89440" opacity="0.9"/>
<circle cx="262.14" cy="108.19" r="1.35" fill="#c89440" opacity="0.9"/>
<circle cx="270.20" cy="110.32" r="1.35" fill="#c89440" opacity="0.9"/>
<circle cx="278.27" cy="111.28" r="1.35" fill="#c89440" opacity="0.9"/>
<circle cx="286.33" cy="113.10" r="1.35" fill="#c89440" opacity="0.9"/>
<circle cx="294.40" cy="114.16" r="1.35" fill="#c89440" opacity="0.9"/>
<circle cx="197.63" cy="53.40" r="1.35" fill="#e6c44a" opacity="0.9"/>
<circle cx="205.69" cy="68.96" r="1.35" fill="#e6c44a" opacity="0.9"/>
<circle cx="213.76" cy="80.69" r="1.35" fill="#e6c44a" opacity="0.9"/>
<circle cx="221.82" cy="81.22" r="1.35" fill="#e6c44a" opacity="0.9"/>
<circle cx="229.88" cy="88.79" r="1.35" fill="#e6c44a" opacity="0.9"/>
<circle cx="237.95" cy="90.82" r="1.35" fill="#e6c44a" opacity="0.9"/>
<circle cx="246.01" cy="91.35" r="1.35" fill="#e6c44a" opacity="0.9"/>
<circle cx="254.08" cy="98.49" r="1.35" fill="#e6c44a" opacity="0.9"/>
<circle cx="262.14" cy="98.49" r="1.35" fill="#e6c44a" opacity="0.9"/>
<circle cx="270.20" cy="104.99" r="1.35" fill="#e6c44a" opacity="0.9"/>
<circle cx="278.27" cy="104.99" r="1.35" fill="#e6c44a" opacity="0.9"/>
<circle cx="286.33" cy="104.99" r="1.35" fill="#e6c44a" opacity="0.9"/>
<circle cx="294.40" cy="102.86" r="1.35" fill="#e6c44a" opacity="0.9"/>
<circle cx="205.69" cy="53.40" r="1.35" fill="#e0e070" opacity="0.9"/>
<circle cx="213.76" cy="62.35" r="1.35" fill="#e0e070" opacity="0.9"/>
<circle cx="221.82" cy="65.87" r="1.35" fill="#e0e070" opacity="0.9"/>
<circle cx="229.88" cy="70.46" r="1.35" fill="#e0e070" opacity="0.9"/>
<circle cx="237.95" cy="72.48" r="1.35" fill="#e0e070" opacity="0.9"/>
<circle cx="246.01" cy="73.12" r="1.35" fill="#e0e070" opacity="0.9"/>
<circle cx="254.08" cy="79.73" r="1.35" fill="#e0e070" opacity="0.9"/>
<circle cx="262.14" cy="81.22" r="1.35" fill="#e0e070" opacity="0.9"/>
<circle cx="270.20" cy="81.76" r="1.35" fill="#e0e070" opacity="0.9"/>
<circle cx="278.27" cy="82.72" r="1.35" fill="#e0e070" opacity="0.9"/>
<circle cx="286.33" cy="84.31" r="1.35" fill="#e0e070" opacity="0.9"/>
<circle cx="294.40" cy="88.90" r="1.35" fill="#e0e070" opacity="0.9"/>
<circle cx="213.76" cy="53.40" r="1.35" fill="#c6e066" opacity="0.9"/>
<circle cx="221.82" cy="61.71" r="1.35" fill="#c6e066" opacity="0.9"/>
<circle cx="229.88" cy="65.34" r="1.35" fill="#c6e066" opacity="0.9"/>
<circle cx="237.95" cy="66.41" r="1.35" fill="#c6e066" opacity="0.9"/>
<circle cx="246.01" cy="68.96" r="1.35" fill="#c6e066" opacity="0.9"/>
<circle cx="254.08" cy="75.57" r="1.35" fill="#c6e066" opacity="0.9"/>
<circle cx="262.14" cy="78.98" r="1.35" fill="#c6e066" opacity="0.9"/>
<circle cx="270.20" cy="80.05" r="1.35" fill="#c6e066" opacity="0.9"/>
<circle cx="278.27" cy="81.12" r="1.35" fill="#c6e066" opacity="0.9"/>
<circle cx="286.33" cy="83.25" r="1.35" fill="#c6e066" opacity="0.9"/>
<circle cx="294.40" cy="86.45" r="1.35" fill="#c6e066" opacity="0.9"/>
<circle cx="221.82" cy="53.40" r="1.35" fill="#a6d862" opacity="0.9"/>
<circle cx="229.88" cy="59.05" r="1.35" fill="#a6d862" opacity="0.9"/>
<circle cx="237.95" cy="59.48" r="1.35" fill="#a6d862" opacity="0.9"/>
<circle cx="246.01" cy="59.80" r="1.35" fill="#a6d862" opacity="0.9"/>
<circle cx="254.08" cy="66.83" r="1.35" fill="#a6d862" opacity="0.9"/>
<circle cx="262.14" cy="67.90" r="1.35" fill="#a6d862" opacity="0.9"/>
<circle cx="270.20" cy="69.39" r="1.35" fill="#a6d862" opacity="0.9"/>
<circle cx="278.27" cy="71.95" r="1.35" fill="#a6d862" opacity="0.9"/>
<circle cx="286.33" cy="73.12" r="1.35" fill="#a6d862" opacity="0.9"/>
<circle cx="294.40" cy="77.92" r="1.35" fill="#a6d862" opacity="0.9"/>
<circle cx="229.88" cy="53.40" r="1.35" fill="#80cf5e" opacity="0.9"/>
<circle cx="237.95" cy="55.64" r="1.35" fill="#80cf5e" opacity="0.9"/>
<circle cx="246.01" cy="57.66" r="1.35" fill="#80cf5e" opacity="0.9"/>
<circle cx="254.08" cy="63.85" r="1.35" fill="#80cf5e" opacity="0.9"/>
<circle cx="262.14" cy="62.35" r="1.35" fill="#80cf5e" opacity="0.9"/>
<circle cx="270.20" cy="65.87" r="1.35" fill="#80cf5e" opacity="0.9"/>
<circle cx="278.27" cy="68.43" r="1.35" fill="#80cf5e" opacity="0.9"/>
<circle cx="286.33" cy="69.92" r="1.35" fill="#80cf5e" opacity="0.9"/>
<circle cx="294.40" cy="74.08" r="1.35" fill="#80cf5e" opacity="0.9"/>
<circle cx="237.95" cy="53.40" r="1.35" fill="#8cd48c" opacity="0.9"/>
<circle cx="246.01" cy="56.17" r="1.35" fill="#8cd48c" opacity="0.9"/>
<circle cx="254.08" cy="59.26" r="1.35" fill="#8cd48c" opacity="0.9"/>
<circle cx="262.14" cy="62.35" r="1.35" fill="#8cd48c" opacity="0.9"/>
<circle cx="270.20" cy="65.87" r="1.35" fill="#8cd48c" opacity="0.9"/>
<circle cx="278.27" cy="67.26" r="1.35" fill="#8cd48c" opacity="0.9"/>
<circle cx="286.33" cy="68.32" r="1.35" fill="#8cd48c" opacity="0.9"/>
<circle cx="294.40" cy="72.59" r="1.35" fill="#8cd48c" opacity="0.9"/>
<circle cx="246.01" cy="53.40" r="1.35" fill="#9ad8b4" opacity="0.9"/>
<circle cx="254.08" cy="57.66" r="1.35" fill="#9ad8b4" opacity="0.9"/>
<circle cx="262.14" cy="59.80" r="1.35" fill="#9ad8b4" opacity="0.9"/>
<circle cx="270.20" cy="61.93" r="1.35" fill="#9ad8b4" opacity="0.9"/>
<circle cx="278.27" cy="64.06" r="1.35" fill="#9ad8b4" opacity="0.9"/>
<circle cx="286.33" cy="65.34" r="1.35" fill="#9ad8b4" opacity="0.9"/>
<circle cx="294.40" cy="69.39" r="1.35" fill="#9ad8b4" opacity="0.9"/>
<circle cx="254.08" cy="53.40" r="1.35" fill="#a8dce4" opacity="0.9"/>
<circle cx="262.14" cy="57.66" r="1.35" fill="#a8dce4" opacity="0.9"/>
<circle cx="270.20" cy="61.93" r="1.35" fill="#a8dce4" opacity="0.9"/>
<circle cx="278.27" cy="61.93" r="1.35" fill="#a8dce4" opacity="0.9"/>
<circle cx="286.33" cy="64.06" r="1.35" fill="#a8dce4" opacity="0.9"/>
<circle cx="294.40" cy="67.26" r="1.35" fill="#a8dce4" opacity="0.9"/>
<circle cx="262.14" cy="53.40" r="1.35" fill="#7a9cc4" opacity="0.9"/>
<circle cx="270.20" cy="62.35" r="1.35" fill="#7a9cc4" opacity="0.9"/>
<circle cx="278.27" cy="60.86" r="1.35" fill="#7a9cc4" opacity="0.9"/>
<circle cx="286.33" cy="60.22" r="1.35" fill="#7a9cc4" opacity="0.9"/>
<circle cx="294.40" cy="64.06" r="1.35" fill="#7a9cc4" opacity="0.9"/>
<circle cx="270.20" cy="53.40" r="1.35" fill="#3448c4" opacity="0.9"/>
<circle cx="278.27" cy="57.66" r="1.35" fill="#3448c4" opacity="0.9"/>
<circle cx="286.33" cy="58.73" r="1.35" fill="#3448c4" opacity="0.9"/>
<circle cx="294.40" cy="60.86" r="1.35" fill="#3448c4" opacity="0.9"/>
<circle cx="278.27" cy="53.40" r="1.35" fill="#1c1ca8" opacity="0.9"/>
<circle cx="286.33" cy="56.07" r="1.35" fill="#1c1ca8" opacity="0.9"/>
<circle cx="294.40" cy="60.33" r="1.35" fill="#1c1ca8" opacity="0.9"/>
<circle cx="286.33" cy="53.40" r="1.35" fill="#20208e" opacity="0.9"/>
<circle cx="294.40" cy="57.66" r="1.35" fill="#20208e" opacity="0.9"/>
<circle cx="294.40" cy="53.40" r="1.35" fill="#5634a2" opacity="0.9"/>
<path d="M177.00 213.10V327.40H296.10" stroke="#111" stroke-width="1.4" fill="none"/>
<path d="M174.40 216.50H177.00" stroke="#111" stroke-width="1"/>
<text x="171.20" y="218.30" font-size="5.0" text-anchor="end" stroke="#111" stroke-width="0.3">1</text>
<path d="M174.40 237.84H177.00" stroke="#111" stroke-width="1"/>
<text x="171.20" y="239.64" font-size="5.0" text-anchor="end" stroke="#111" stroke-width="0.3">0.8</text>
<path d="M174.40 259.18H177.00" stroke="#111" stroke-width="1"/>
<text x="171.20" y="260.98" font-size="5.0" text-anchor="end" stroke="#111" stroke-width="0.3">0.6</text>
<path d="M174.40 280.52H177.00" stroke="#111" stroke-width="1"/>
<text x="171.20" y="282.32" font-size="5.0" text-anchor="end" stroke="#111" stroke-width="0.3">0.4</text>
<path d="M174.40 301.86H177.00" stroke="#111" stroke-width="1"/>
<text x="171.20" y="303.66" font-size="5.0" text-anchor="end" stroke="#111" stroke-width="0.3">0.2</text>
<path d="M174.40 323.20H177.00" stroke="#111" stroke-width="1"/>
<text x="171.20" y="325.00" font-size="5.0" text-anchor="end" stroke="#111" stroke-width="0.3">0</text>
<text x="159.80" y="324.70" font-size="4.2" textLength="6.00" lengthAdjust="spacingAndGlyphs" stroke="#111" stroke-width="0.15">&lt;=</text>
<path d="M181.30 327.40V330.20" stroke="#111" stroke-width="1.2"/>
<text x="183.20" y="333.40" font-size="5.5" text-anchor="end" transform="rotate(-90 183.20 333.40)" stroke="#111" stroke-width="0.3">1</text>
<path d="M190.62 327.40V330.20" stroke="#111" stroke-width="1.2"/>
<text x="192.52" y="333.40" font-size="5.5" text-anchor="end" transform="rotate(-90 192.52 333.40)" stroke="#111" stroke-width="0.3">2</text>
<path d="M199.94 327.40V330.20" stroke="#111" stroke-width="1.2"/>
<text x="201.84" y="333.40" font-size="5.5" text-anchor="end" transform="rotate(-90 201.84 333.40)" stroke="#111" stroke-width="0.3">3</text>
<path d="M209.26 327.40V330.20" stroke="#111" stroke-width="1.2"/>
<text x="211.16" y="333.40" font-size="5.5" text-anchor="end" transform="rotate(-90 211.16 333.40)" stroke="#111" stroke-width="0.3">4.5</text>
<path d="M218.58 327.40V330.20" stroke="#111" stroke-width="1.2"/>
<text x="220.48" y="333.40" font-size="5.5" text-anchor="end" transform="rotate(-90 220.48 333.40)" stroke="#111" stroke-width="0.3">6.5</text>
<path d="M227.90 327.40V330.20" stroke="#111" stroke-width="1.2"/>
<text x="229.80" y="333.40" font-size="5.5" text-anchor="end" transform="rotate(-90 229.80 333.40)" stroke="#111" stroke-width="0.3">12</text>
<path d="M237.22 327.40V330.20" stroke="#111" stroke-width="1.2"/>
<text x="239.12" y="333.40" font-size="5.5" text-anchor="end" transform="rotate(-90 239.12 333.40)" stroke="#111" stroke-width="0.3">14.5</text>
<path d="M246.54 327.40V330.20" stroke="#111" stroke-width="1.2"/>
<text x="248.44" y="333.40" font-size="5.5" text-anchor="end" transform="rotate(-90 248.44 333.40)" stroke="#111" stroke-width="0.3">17</text>
<path d="M255.86 327.40V330.20" stroke="#111" stroke-width="1.2"/>
<text x="257.76" y="333.40" font-size="5.5" text-anchor="end" transform="rotate(-90 257.76 333.40)" stroke="#111" stroke-width="0.3">22</text>
<path d="M265.18 327.40V330.20" stroke="#111" stroke-width="1.2"/>
<text x="267.08" y="333.40" font-size="5.5" text-anchor="end" transform="rotate(-90 267.08 333.40)" stroke="#111" stroke-width="0.3">24</text>
<path d="M274.50 327.40V330.20" stroke="#111" stroke-width="1.2"/>
<text x="276.40" y="333.40" font-size="5.5" text-anchor="end" transform="rotate(-90 276.40 333.40)" stroke="#111" stroke-width="0.3">27</text>
<path d="M283.82 327.40V330.20" stroke="#111" stroke-width="1.2"/>
<text x="285.72" y="333.40" font-size="5.5" text-anchor="end" transform="rotate(-90 285.72 333.40)" stroke="#111" stroke-width="0.3">36</text>
<path d="M293.14 327.40V330.20" stroke="#111" stroke-width="1.2"/>
<text x="295.04" y="333.40" font-size="5.5" text-anchor="end" transform="rotate(-90 295.04 333.40)" stroke="#111" stroke-width="0.3">42</text>
<path d="M181.30 216.50 L190.62 323.20 L199.94 323.20 L209.26 323.20 L218.58 323.20 L227.90 323.20 L237.22 323.20 L246.54 323.20 L255.86 323.20 L265.18 323.20 L274.50 323.20 L283.82 323.20 L293.14 323.20" stroke="#b8582c" stroke-width="0.55" fill="none" opacity="0.6"/>
<path d="M190.62 216.50 L199.94 289.06 L209.26 288.63 L218.58 287.14 L227.90 294.39 L237.22 297.70 L246.54 299.30 L255.86 303.14 L265.18 301.54 L274.50 303.57 L283.82 305.06 L293.14 305.91" stroke="#c89440" stroke-width="0.55" fill="none" opacity="0.6"/>
<path d="M199.94 216.50 L209.26 237.84 L218.58 250.96 L227.90 252.24 L237.22 252.24 L246.54 257.79 L255.86 263.45 L265.18 271.66 L274.50 264.09 L283.82 266.54 L293.14 266.54" stroke="#e0e060" stroke-width="0.55" fill="none" opacity="0.6"/>
<path d="M209.26 216.50 L218.58 233.89 L227.90 243.92 L237.22 245.20 L246.54 247.66 L255.86 260.25 L265.18 258.33 L274.50 258.54 L283.82 259.18 L293.14 266.54" stroke="#c8e060" stroke-width="0.55" fill="none" opacity="0.6"/>
<path d="M218.58 216.50 L227.90 230.05 L237.22 233.89 L246.54 235.17 L255.86 243.92 L265.18 247.66 L274.50 243.92 L283.82 247.66 L293.14 248.94" stroke="#b0d860" stroke-width="0.55" fill="none" opacity="0.6"/>
<path d="M227.90 216.50 L237.22 220.55 L246.54 220.55 L255.86 226.32 L265.18 227.60 L274.50 225.04 L283.82 228.88 L293.14 231.33" stroke="#88d060" stroke-width="0.55" fill="none" opacity="0.6"/>
<path d="M237.22 216.50 L246.54 220.55 L255.86 223.97 L265.18 223.97 L274.50 222.90 L283.82 227.17 L293.14 230.37" stroke="#80d080" stroke-width="0.55" fill="none" opacity="0.6"/>
<path d="M246.54 216.50 L255.86 220.77 L265.18 223.97 L274.50 221.84 L283.82 225.04 L293.14 229.30" stroke="#a0d8b0" stroke-width="0.55" fill="none" opacity="0.6"/>
<path d="M255.86 216.50 L265.18 221.84 L274.50 220.77 L283.82 222.90 L293.14 227.17" stroke="#b0e0e0" stroke-width="0.55" fill="none" opacity="0.6"/>
<path d="M265.18 216.50 L274.50 219.70 L283.82 221.84 L293.14 225.04" stroke="#90b8d8" stroke-width="0.55" fill="none" opacity="0.6"/>
<path d="M274.50 216.50 L283.82 218.63 L293.14 221.84" stroke="#3050c8" stroke-width="0.55" fill="none" opacity="0.6"/>
<path d="M283.82 216.50 L293.14 219.70" stroke="#1c1ca8" stroke-width="0.55" fill="none" opacity="0.6"/>
<circle cx="181.30" cy="216.50" r="1.35" fill="#a24f28" opacity="0.9"/>
<circle cx="190.62" cy="323.20" r="1.35" fill="#a24f28" opacity="0.9"/>
<circle cx="199.94" cy="323.20" r="1.35" fill="#a24f28" opacity="0.9"/>
<circle cx="209.26" cy="323.20" r="1.35" fill="#a24f28" opacity="0.9"/>
<circle cx="218.58" cy="323.20" r="1.35" fill="#a24f28" opacity="0.9"/>
<circle cx="227.90" cy="323.20" r="1.35" fill="#a24f28" opacity="0.9"/>
<circle cx="237.22" cy="323.20" r="1.35" fill="#a24f28" opacity="0.9"/>
<circle cx="246.54" cy="323.20" r="1.35" fill="#a24f28" opacity="0.9"/>
<circle cx="255.86" cy="323.20" r="1.35" fill="#a24f28" opacity="0.9"/>
<circle cx="265.18" cy="323.20" r="1.35" fill="#a24f28" opacity="0.9"/>
<circle cx="274.50" cy="323.20" r="1.35" fill="#a24f28" opacity="0.9"/>
<circle cx="283.82" cy="323.20" r="1.35" fill="#a24f28" opacity="0.9"/>
<circle cx="293.14" cy="323.20" r="1.35" fill="#a24f28" opacity="0.9"/>
<circle cx="190.62" cy="216.50" r="1.35" fill="#c89440" opacity="0.9"/>
<circle cx="199.94" cy="289.06" r="1.35" fill="#c89440" opacity="0.9"/>
<circle cx="209.26" cy="288.63" r="1.35" fill="#c89440" opacity="0.9"/>
<circle cx="218.58" cy="287.14" r="1.35" fill="#c89440" opacity="0.9"/>
<circle cx="227.90" cy="294.39" r="1.35" fill="#c89440" opacity="0.9"/>
<circle cx="237.22" cy="297.70" r="1.35" fill="#c89440" opacity="0.9"/>
<circle cx="246.54" cy="299.30" r="1.35" fill="#c89440" opacity="0.9"/>
<circle cx="255.86" cy="303.14" r="1.35" fill="#c89440" opacity="0.9"/>
<circle cx="265.18" cy="301.54" r="1.35" fill="#c89440" opacity="0.9"/>
<circle cx="274.50" cy="303.57" r="1.35" fill="#c89440" opacity="0.9"/>
<circle cx="283.82" cy="305.06" r="1.35" fill="#c89440" opacity="0.9"/>
<circle cx="293.14" cy="305.91" r="1.35" fill="#c89440" opacity="0.9"/>
<circle cx="199.94" cy="216.50" r="1.35" fill="#e0e060" opacity="0.9"/>
<circle cx="209.26" cy="237.84" r="1.35" fill="#e0e060" opacity="0.9"/>
<circle cx="218.58" cy="250.96" r="1.35" fill="#e0e060" opacity="0.9"/>
<circle cx="227.90" cy="252.24" r="1.35" fill="#e0e060" opacity="0.9"/>
<circle cx="237.22" cy="252.24" r="1.35" fill="#e0e060" opacity="0.9"/>
<circle cx="246.54" cy="257.79" r="1.35" fill="#e0e060" opacity="0.9"/>
<circle cx="255.86" cy="263.45" r="1.35" fill="#e0e060" opacity="0.9"/>
<circle cx="265.18" cy="271.66" r="1.35" fill="#e0e060" opacity="0.9"/>
<circle cx="274.50" cy="264.09" r="1.35" fill="#e0e060" opacity="0.9"/>
<circle cx="283.82" cy="266.54" r="1.35" fill="#e0e060" opacity="0.9"/>
<circle cx="293.14" cy="266.54" r="1.35" fill="#e0e060" opacity="0.9"/>
<circle cx="209.26" cy="216.50" r="1.35" fill="#c8e060" opacity="0.9"/>
<circle cx="218.58" cy="233.89" r="1.35" fill="#c8e060" opacity="0.9"/>
<circle cx="227.90" cy="243.92" r="1.35" fill="#c8e060" opacity="0.9"/>
<circle cx="237.22" cy="245.20" r="1.35" fill="#c8e060" opacity="0.9"/>
<circle cx="246.54" cy="247.66" r="1.35" fill="#c8e060" opacity="0.9"/>
<circle cx="255.86" cy="260.25" r="1.35" fill="#c8e060" opacity="0.9"/>
<circle cx="265.18" cy="258.33" r="1.35" fill="#c8e060" opacity="0.9"/>
<circle cx="274.50" cy="258.54" r="1.35" fill="#c8e060" opacity="0.9"/>
<circle cx="283.82" cy="259.18" r="1.35" fill="#c8e060" opacity="0.9"/>
<circle cx="293.14" cy="266.54" r="1.35" fill="#c8e060" opacity="0.9"/>
<circle cx="218.58" cy="216.50" r="1.35" fill="#b0d860" opacity="0.9"/>
<circle cx="227.90" cy="230.05" r="1.35" fill="#b0d860" opacity="0.9"/>
<circle cx="237.22" cy="233.89" r="1.35" fill="#b0d860" opacity="0.9"/>
<circle cx="246.54" cy="235.17" r="1.35" fill="#b0d860" opacity="0.9"/>
<circle cx="255.86" cy="243.92" r="1.35" fill="#b0d860" opacity="0.9"/>
<circle cx="265.18" cy="247.66" r="1.35" fill="#b0d860" opacity="0.9"/>
<circle cx="274.50" cy="243.92" r="1.35" fill="#b0d860" opacity="0.9"/>
<circle cx="283.82" cy="247.66" r="1.35" fill="#b0d860" opacity="0.9"/>
<circle cx="293.14" cy="248.94" r="1.35" fill="#b0d860" opacity="0.9"/>
<circle cx="227.90" cy="216.50" r="1.35" fill="#88d060" opacity="0.9"/>
<circle cx="237.22" cy="220.55" r="1.35" fill="#88d060" opacity="0.9"/>
<circle cx="246.54" cy="220.55" r="1.35" fill="#88d060" opacity="0.9"/>
<circle cx="255.86" cy="226.32" r="1.35" fill="#88d060" opacity="0.9"/>
<circle cx="265.18" cy="227.60" r="1.35" fill="#88d060" opacity="0.9"/>
<circle cx="274.50" cy="225.04" r="1.35" fill="#88d060" opacity="0.9"/>
<circle cx="283.82" cy="228.88" r="1.35" fill="#88d060" opacity="0.9"/>
<circle cx="293.14" cy="231.33" r="1.35" fill="#88d060" opacity="0.9"/>
<circle cx="237.22" cy="216.50" r="1.35" fill="#80d080" opacity="0.9"/>
<circle cx="246.54" cy="220.55" r="1.35" fill="#80d080" opacity="0.9"/>
<circle cx="255.86" cy="223.97" r="1.35" fill="#80d080" opacity="0.9"/>
<circle cx="265.18" cy="223.97" r="1.35" fill="#80d080" opacity="0.9"/>
<circle cx="274.50" cy="222.90" r="1.35" fill="#80d080" opacity="0.9"/>
<circle cx="283.82" cy="227.17" r="1.35" fill="#80d080" opacity="0.9"/>
<circle cx="293.14" cy="230.37" r="1.35" fill="#80d080" opacity="0.9"/>
<circle cx="246.54" cy="216.50" r="1.35" fill="#a0d8b0" opacity="0.9"/>
<circle cx="255.86" cy="220.77" r="1.35" fill="#a0d8b0" opacity="0.9"/>
<circle cx="265.18" cy="223.97" r="1.35" fill="#a0d8b0" opacity="0.9"/>
<circle cx="274.50" cy="221.84" r="1.35" fill="#a0d8b0" opacity="0.9"/>
<circle cx="283.82" cy="225.04" r="1.35" fill="#a0d8b0" opacity="0.9"/>
<circle cx="293.14" cy="229.30" r="1.35" fill="#a0d8b0" opacity="0.9"/>
<circle cx="255.86" cy="216.50" r="1.35" fill="#b0e0e0" opacity="0.9"/>
<circle cx="265.18" cy="221.84" r="1.35" fill="#b0e0e0" opacity="0.9"/>
<circle cx="274.50" cy="220.77" r="1.35" fill="#b0e0e0" opacity="0.9"/>
<circle cx="283.82" cy="222.90" r="1.35" fill="#b0e0e0" opacity="0.9"/>
<circle cx="293.14" cy="227.17" r="1.35" fill="#b0e0e0" opacity="0.9"/>
<circle cx="265.18" cy="216.50" r="1.35" fill="#90b8d8" opacity="0.9"/>
<circle cx="274.50" cy="219.70" r="1.35" fill="#90b8d8" opacity="0.9"/>
<circle cx="283.82" cy="221.84" r="1.35" fill="#90b8d8" opacity="0.9"/>
<circle cx="293.14" cy="225.04" r="1.35" fill="#90b8d8" opacity="0.9"/>
<circle cx="274.50" cy="216.50" r="1.35" fill="#3050c8" opacity="0.9"/>
<circle cx="283.82" cy="218.63" r="1.35" fill="#3050c8" opacity="0.9"/>
<circle cx="293.14" cy="221.84" r="1.35" fill="#3050c8" opacity="0.9"/>
<circle cx="283.82" cy="216.50" r="1.35" fill="#1c1ca8" opacity="0.9"/>
<circle cx="293.14" cy="219.70" r="1.35" fill="#1c1ca8" opacity="0.9"/>
<circle cx="293.14" cy="216.50" r="1.35" fill="#40309a" opacity="0.9"/>
<text x="196.70" y="42.50" font-size="7.4" textLength="81.80" lengthAdjust="spacingAndGlyphs" stroke="#111" stroke-width="0.2">ZH33 Gr autocorrelation</text>
<text x="196.20" y="206.00" font-size="7.4" textLength="81.80" lengthAdjust="spacingAndGlyphs" stroke="#111" stroke-width="0.2">ZG66 Gr autocorrelation</text>
<text x="155.00" y="135.80" font-size="6.9" textLength="58.20" lengthAdjust="spacingAndGlyphs" transform="rotate(-90 155.00 135.80)" stroke="#111" stroke-width="0.2">Pearson correlation</text>
<text x="155.00" y="298.80" font-size="6.9" textLength="58.20" lengthAdjust="spacingAndGlyphs" transform="rotate(-90 155.00 298.80)" stroke="#111" stroke-width="0.2">Pearson correlation</text>
<text x="202.50" y="187.00" font-size="7.8" textLength="69.80" lengthAdjust="spacingAndGlyphs" stroke="#111" stroke-width="0.2">Months post-transplant</text>
<text x="201.40" y="354.00" font-size="7.8" textLength="71.00" lengthAdjust="spacingAndGlyphs" stroke="#111" stroke-width="0.2">Months post-transplant</text>
<path d="M329.0 50.3V163.7H459.0" stroke="#111" stroke-width="1.4" fill="none"/>
<path d="M326.2 53.40H329" stroke="#111" stroke-width="1"/>
<text x="322.60" y="55.20" font-size="5.0" text-anchor="end" textLength="7.00" lengthAdjust="spacingAndGlyphs" stroke="#111" stroke-width="0.3">1.0</text>
<path d="M326.2 74.66H329" stroke="#111" stroke-width="1"/>
<text x="322.60" y="76.46" font-size="5.0" text-anchor="end" textLength="7.00" lengthAdjust="spacingAndGlyphs" stroke="#111" stroke-width="0.3">0.8</text>
<path d="M326.2 95.92H329" stroke="#111" stroke-width="1"/>
<text x="322.60" y="97.72" font-size="5.0" text-anchor="end" textLength="7.00" lengthAdjust="spacingAndGlyphs" stroke="#111" stroke-width="0.3">0.6</text>
<path d="M326.2 117.18H329" stroke="#111" stroke-width="1"/>
<text x="322.60" y="118.98" font-size="5.0" text-anchor="end" textLength="7.00" lengthAdjust="spacingAndGlyphs" stroke="#111" stroke-width="0.3">0.4</text>
<path d="M326.2 138.44H329" stroke="#111" stroke-width="1"/>
<text x="322.60" y="140.24" font-size="5.0" text-anchor="end" textLength="7.00" lengthAdjust="spacingAndGlyphs" stroke="#111" stroke-width="0.3">0.2</text>
<path d="M326.2 159.70H329" stroke="#111" stroke-width="1"/>
<text x="322.60" y="161.50" font-size="5.0" text-anchor="end" textLength="7.00" lengthAdjust="spacingAndGlyphs" stroke="#111" stroke-width="0.3">0.0</text>
<path d="M334.00 163.7V166" stroke="#111" stroke-width="1"/>
<text x="334.00" y="174.40" font-size="5.0" text-anchor="middle" stroke="#111" stroke-width="0.3">0</text>
<path d="M370.10 163.7V166" stroke="#111" stroke-width="1"/>
<text x="370.10" y="174.40" font-size="5.0" text-anchor="middle" stroke="#111" stroke-width="0.3">500</text>
<path d="M406.20 163.7V166" stroke="#111" stroke-width="1"/>
<text x="406.20" y="174.40" font-size="5.0" text-anchor="middle" stroke="#111" stroke-width="0.3">1000</text>
<path d="M442.30 163.7V166" stroke="#111" stroke-width="1"/>
<text x="442.30" y="174.40" font-size="5.0" text-anchor="middle" stroke="#111" stroke-width="0.3">1500</text>
<path d="M333.70 159.50 L333.98 157.71 L334.38 155.13 L334.84 152.24 L335.30 149.50 L335.71 147.08 L336.13 144.72 L336.60 142.22 L337.20 139.40 L337.98 136.08 L338.90 132.41 L339.87 128.65 L340.80 125.10 L341.66 121.83 L342.49 118.69 L343.36 115.60 L344.30 112.50 L345.40 109.23 L346.60 105.89 L347.78 102.72 L348.80 100.00 L349.54 97.96 L350.09 96.41 L350.67 94.95 L351.50 93.20 L352.66 90.99 L354.04 88.56 L355.52 86.09 L357.00 83.80 L358.51 81.70 L360.09 79.71 L361.65 77.83 L363.10 76.10 L364.41 74.56 L365.62 73.19 L366.80 71.90 L368.00 70.60 L369.27 69.26 L370.56 67.94 L371.82 66.65 L373.00 65.40 L374.10 64.16 L375.15 62.94 L376.12 61.80 L377.00 60.80 L377.81 59.95 L378.55 59.21 L379.17 58.62 L379.60 58.20 L381.60 57.40 L390.00 56.80 L400.00 56.20 L415.00 55.40 L430.00 54.50 L445.00 53.60 L452.70 53.20" stroke="#c4521f" stroke-width="1.4" fill="none"/>
<path d="M333.70 159.60 L350.00 158.40 L378.50 156.90 L379.09 157.00 L379.64 155.50 L380.07 154.00 L380.03 152.50 L380.17 151.00 L380.88 149.50 L381.38 148.00 L381.78 146.50 L382.09 145.00 L383.12 143.50 L383.21 142.00 L383.89 140.50 L384.83 139.00 L385.88 137.50 L386.71 136.00 L387.32 134.50 L388.27 133.00 L388.87 131.50 L389.35 130.00 L390.35 128.50 L391.33 127.00 L392.39 125.50 L392.87 124.00 L394.00 122.50 L394.50 121.00 L395.68 119.50 L397.37 118.00 L398.77 116.50 L400.59 115.00 L401.02 113.50 L402.12 112.00 L402.92 110.50 L404.06 109.00 L404.53 107.50 L405.19 106.00 L406.09 104.50 L407.16 103.00 L407.72 101.50 L408.95 100.00 L410.26 98.50 L411.36 97.00 L411.99 95.50 L412.73 94.00 L414.29 92.50 L415.34 91.00 L416.35 89.50 L417.68 88.00 L418.62 86.50 L420.09 85.00 L420.69 83.50 L422.59 82.00 L423.75 80.50 L425.52 79.00 L426.28 77.50 L428.05 76.00 L429.64 74.50 L431.47 73.00 L432.89 71.50 L434.14 70.00 L435.49 68.50 L437.06 67.00 L438.19 65.50 L439.82 64.00 L441.09 62.50 L443.38 61.00 L445.05 59.50 L446.60 58.00 L448.34 56.50 L450.22 55.00 L452.29 53.50 L452.64 53.20" stroke="#cf8c30" stroke-width="1.3" fill="none" stroke-linejoin="round"/>
<path d="M333.70 159.60 L350.00 158.80 L378.50 157.60 L379.22 157.00 L379.85 155.50 L380.25 154.00 L380.87 152.50 L381.75 151.00 L382.84 149.50 L383.77 148.00 L384.57 146.50 L386.99 145.00 L389.14 143.50 L391.47 142.00 L394.13 140.50 L396.86 139.00 L399.52 137.50 L401.49 136.00 L402.05 134.50 L403.02 133.00 L403.23 131.50 L403.81 130.00 L403.61 128.50 L404.35 127.00 L404.49 125.50 L405.17 124.00 L405.30 122.50 L405.65 121.00 L406.95 119.50 L407.98 118.00 L409.10 116.50 L409.54 115.00 L410.63 113.50 L411.79 112.00 L413.74 110.50 L415.60 109.00 L417.39 107.50 L418.56 106.00 L418.97 104.50 L419.49 103.00 L419.83 101.50 L421.16 100.00 L421.25 98.50 L422.47 97.00 L422.16 95.50 L423.29 94.00 L423.31 92.50 L424.39 91.00 L424.76 89.50 L425.65 88.00 L426.45 86.50 L427.74 85.00 L428.70 83.50 L429.56 82.00 L430.45 80.50 L431.22 79.00 L432.21 77.50 L433.09 76.00 L434.53 74.50 L435.48 73.00 L436.83 71.50 L437.93 70.00 L438.98 68.50 L439.72 67.00 L440.52 65.50 L442.06 64.00 L443.17 62.50 L444.66 61.00 L446.53 59.50 L448.00 58.00 L449.48 56.50 L450.92 55.00 L452.35 53.50 L452.72 53.20" stroke="#e8d83c" stroke-width="1.3" fill="none" stroke-linejoin="round"/>
<path d="M333.70 159.60 L350.00 159.20 L378.50 158.40 L379.46 157.00 L380.41 155.50 L381.28 154.00 L383.02 152.50 L383.86 151.00 L384.34 149.50 L386.09 148.00 L387.94 146.50 L389.95 145.00 L392.79 143.50 L395.25 142.00 L398.56 140.50 L400.88 139.00 L403.88 137.50 L406.33 136.00 L406.46 134.50 L407.26 133.00 L406.93 131.50 L408.46 130.00 L408.27 128.50 L409.06 127.00 L409.25 125.50 L410.42 124.00 L410.28 122.50 L410.82 121.00 L411.57 119.50 L412.61 118.00 L413.27 116.50 L413.37 115.00 L414.13 113.50 L414.41 112.00 L415.44 110.50 L417.15 109.00 L418.43 107.50 L420.15 106.00 L421.06 104.50 L421.39 103.00 L421.38 101.50 L421.05 100.00 L422.09 98.50 L422.91 97.00 L424.11 95.50 L424.16 94.00 L424.78 92.50 L424.86 91.00 L426.44 89.50 L427.24 88.00 L428.18 86.50 L429.30 85.00 L430.81 83.50 L432.04 82.00 L432.95 80.50 L433.16 79.00 L434.40 77.50 L435.09 76.00 L436.75 74.50 L437.32 73.00 L437.81 71.50 L438.17 70.00 L439.62 68.50 L441.58 67.00 L443.35 65.50 L444.21 64.00 L445.31 62.50 L445.88 61.00 L447.39 59.50 L448.47 58.00 L449.95 56.50 L451.49 55.00 L452.71 53.50 L452.92 53.20" stroke="#e4ea40" stroke-width="1.3" fill="none" stroke-linejoin="round"/>
<path d="M333.70 159.60 L350.00 159.60 L378.50 159.40 L380.16 157.00 L381.48 155.50 L383.26 154.00 L384.62 152.50 L385.93 151.00 L387.23 149.50 L389.68 148.00 L390.95 146.50 L393.13 145.00 L396.48 143.50 L400.47 142.00 L403.17 140.50 L405.48 139.00 L407.42 137.50 L409.68 136.00 L410.23 134.50 L411.19 133.00 L411.83 131.50 L412.79 130.00 L413.48 128.50 L413.89 127.00 L414.28 125.50 L414.87 124.00 L414.78 122.50 L414.71 121.00 L414.34 119.50 L415.69 118.00 L416.49 116.50 L417.53 115.00 L417.57 113.50 L418.51 112.00 L419.40 110.50 L420.15 109.00 L420.73 107.50 L420.65 106.00 L421.10 104.50 L421.90 103.00 L422.55 101.50 L422.97 100.00 L422.57 98.50 L423.73 97.00 L425.15 95.50 L425.82 94.00 L426.25 92.50 L426.42 91.00 L427.50 89.50 L428.22 88.00 L429.21 86.50 L430.00 85.00 L431.77 83.50 L432.56 82.00 L434.01 80.50 L434.69 79.00 L436.23 77.50 L437.23 76.00 L438.15 74.50 L439.53 73.00 L440.25 71.50 L440.95 70.00 L441.30 68.50 L443.00 67.00 L444.31 65.50 L445.44 64.00 L445.72 62.50 L446.41 61.00 L448.25 59.50 L449.33 58.00 L450.45 56.50 L451.31 55.00 L452.33 53.50 L452.44 53.20" stroke="#c4ec40" stroke-width="1.3" fill="none" stroke-linejoin="round"/>
<path d="M333.70 159.60 L350.00 159.60 L378.50 159.40 L379.91 157.00 L381.58 155.50 L382.61 154.00 L384.85 152.50 L386.51 151.00 L388.80 149.50 L391.00 148.00 L393.05 146.50 L395.78 145.00 L398.37 143.50 L402.20 142.00 L404.28 140.50 L407.08 139.00 L408.92 137.50 L411.76 136.00 L412.74 134.50 L414.00 133.00 L414.65 131.50 L415.96 130.00 L416.84 128.50 L417.00 127.00 L417.38 125.50 L417.42 124.00 L418.13 122.50 L418.66 121.00 L418.68 119.50 L418.83 118.00 L418.86 116.50 L419.56 115.00 L420.02 113.50 L420.19 112.00 L421.38 110.50 L422.65 109.00 L423.91 107.50 L424.26 106.00 L424.15 104.50 L424.08 103.00 L424.22 101.50 L424.35 100.00 L424.71 98.50 L425.37 97.00 L426.39 95.50 L427.58 94.00 L428.25 92.50 L428.47 91.00 L429.40 89.50 L430.22 88.00 L431.62 86.50 L432.05 85.00 L432.95 83.50 L434.42 82.00 L436.07 80.50 L436.83 79.00 L437.81 77.50 L438.63 76.00 L440.36 74.50 L440.64 73.00 L441.74 71.50 L442.46 70.00 L443.66 68.50 L443.69 67.00 L444.59 65.50 L445.21 64.00 L446.43 62.50 L447.76 61.00 L448.90 59.50 L450.01 58.00 L450.74 56.50 L451.56 55.00 L452.31 53.50 L452.42 53.20" stroke="#9ce640" stroke-width="1.3" fill="none" stroke-linejoin="round"/>
<path d="M333.70 159.60 L350.00 159.60 L378.50 159.40 L380.05 157.00 L381.87 155.50 L383.45 154.00 L385.23 152.50 L387.13 151.00 L388.50 149.50 L391.61 148.00 L393.96 146.50 L397.35 145.00 L400.53 143.50 L404.72 142.00 L407.26 140.50 L410.20 139.00 L412.16 137.50 L414.08 136.00 L415.04 134.50 L415.51 133.00 L417.11 131.50 L417.32 130.00 L418.59 128.50 L418.54 127.00 L418.72 125.50 L418.42 124.00 L418.49 122.50 L419.02 121.00 L419.68 119.50 L420.40 118.00 L421.04 116.50 L422.15 115.00 L422.83 113.50 L423.25 112.00 L422.96 110.50 L423.65 109.00 L424.54 107.50 L426.01 106.00 L425.91 104.50 L426.02 103.00 L426.54 101.50 L427.18 100.00 L428.50 98.50 L429.07 97.00 L429.87 95.50 L430.14 94.00 L429.69 92.50 L430.54 91.00 L431.08 89.50 L432.42 88.00 L432.44 86.50 L433.46 85.00 L434.44 83.50 L435.76 82.00 L436.97 80.50 L438.39 79.00 L439.78 77.50 L439.81 76.00 L440.76 74.50 L440.86 73.00 L442.47 71.50 L443.11 70.00 L444.49 68.50 L445.11 67.00 L445.46 65.50 L446.27 64.00 L446.89 62.50 L448.32 61.00 L449.34 59.50 L450.35 58.00 L451.14 56.50 L451.90 55.00 L452.62 53.50 L452.55 53.20" stroke="#6ee24a" stroke-width="1.3" fill="none" stroke-linejoin="round"/>
<path d="M333.70 159.60 L350.00 159.60 L378.50 159.40 L380.51 157.00 L382.61 155.50 L385.08 154.00 L387.58 152.50 L389.71 151.00 L391.82 149.50 L393.63 148.00 L395.65 146.50 L399.18 145.00 L403.79 143.50 L408.03 142.00 L410.20 140.50 L411.56 139.00 L414.29 137.50 L416.30 136.00 L417.79 134.50 L417.84 133.00 L418.62 131.50 L419.43 130.00 L420.02 128.50 L420.43 127.00 L421.19 125.50 L422.49 124.00 L423.43 122.50 L423.91 121.00 L424.57 119.50 L425.12 118.00 L424.89 116.50 L424.68 115.00 L424.26 113.50 L425.65 112.00 L426.45 110.50 L427.10 109.00 L426.71 107.50 L426.62 106.00 L427.49 104.50 L428.27 103.00 L428.45 101.50 L428.93 100.00 L429.14 98.50 L429.88 97.00 L430.71 95.50 L431.83 94.00 L432.93 92.50 L433.24 91.00 L433.45 89.50 L433.43 88.00 L433.76 86.50 L434.72 85.00 L436.62 83.50 L437.48 82.00 L437.79 80.50 L438.73 79.00 L440.07 77.50 L441.81 76.00 L442.16 74.50 L442.56 73.00 L442.85 71.50 L443.32 70.00 L444.28 68.50 L445.43 67.00 L447.20 65.50 L448.62 64.00 L449.28 62.50 L449.19 61.00 L449.81 59.50 L450.39 58.00 L451.03 56.50 L451.62 55.00 L452.51 53.50 L452.96 53.20" stroke="#5adc78" stroke-width="1.3" fill="none" stroke-linejoin="round"/>
<path d="M333.70 159.60 L350.00 159.60 L378.50 159.40 L380.84 157.00 L383.22 155.50 L386.01 154.00 L388.34 152.50 L390.00 151.00 L392.24 149.50 L394.26 148.00 L397.23 146.50 L400.63 145.00 L404.86 143.50 L408.28 142.00 L410.62 140.50 L412.69 139.00 L415.05 137.50 L417.31 136.00 L418.70 134.50 L420.18 133.00 L420.79 131.50 L421.79 130.00 L422.07 128.50 L423.54 127.00 L423.98 125.50 L424.52 124.00 L424.35 122.50 L425.06 121.00 L426.07 119.50 L426.97 118.00 L426.53 116.50 L426.81 115.00 L427.39 113.50 L428.68 112.00 L429.28 110.50 L429.94 109.00 L430.21 107.50 L429.97 106.00 L429.89 104.50 L430.05 103.00 L430.89 101.50 L431.42 100.00 L432.21 98.50 L432.35 97.00 L432.74 95.50 L433.32 94.00 L434.05 92.50 L434.86 91.00 L435.12 89.50 L435.20 88.00 L435.46 86.50 L435.84 85.00 L436.83 83.50 L437.34 82.00 L437.97 80.50 L439.06 79.00 L440.62 77.50 L442.27 76.00 L443.61 74.50 L444.18 73.00 L444.00 71.50 L443.91 70.00 L444.11 68.50 L445.87 67.00 L446.78 65.50 L448.26 64.00 L448.50 62.50 L449.52 61.00 L450.08 59.50 L450.87 58.00 L451.33 56.50 L451.89 55.00 L452.43 53.50 L452.86 53.20" stroke="#60e4c0" stroke-width="1.3" fill="none" stroke-linejoin="round"/>
<path d="M333.70 159.60 L350.00 159.60 L378.50 159.40 L380.66 157.00 L383.22 155.50 L385.88 154.00 L388.79 152.50 L392.07 151.00 L394.59 149.50 L397.57 148.00 L400.00 146.50 L403.29 145.00 L406.93 143.50 L410.79 142.00 L413.15 140.50 L415.38 139.00 L416.70 137.50 L418.03 136.00 L418.51 134.50 L420.40 133.00 L422.16 131.50 L423.34 130.00 L423.87 128.50 L423.53 127.00 L424.74 125.50 L424.62 124.00 L426.15 122.50 L426.53 121.00 L427.94 119.50 L428.37 118.00 L428.65 116.50 L428.25 115.00 L428.01 113.50 L428.88 112.00 L429.96 110.50 L430.16 109.00 L430.47 107.50 L430.22 106.00 L430.64 104.50 L431.21 103.00 L432.57 101.50 L433.39 100.00 L433.69 98.50 L433.31 97.00 L433.53 95.50 L433.93 94.00 L434.41 92.50 L434.71 91.00 L435.34 89.50 L436.38 88.00 L437.92 86.50 L438.68 85.00 L439.59 83.50 L439.62 82.00 L439.60 80.50 L440.61 79.00 L441.80 77.50 L442.53 76.00 L443.12 74.50 L444.23 73.00 L444.89 71.50 L445.40 70.00 L446.20 68.50 L446.88 67.00 L447.78 65.50 L447.86 64.00 L449.24 62.50 L449.18 61.00 L450.10 59.50 L450.61 58.00 L451.20 56.50 L451.89 55.00 L452.42 53.50 L452.53 53.20" stroke="#70eef0" stroke-width="1.3" fill="none" stroke-linejoin="round"/>
<path d="M333.70 159.60 L350.00 159.60 L378.50 159.40 L380.89 157.00 L383.88 155.50 L386.17 154.00 L390.08 152.50 L393.15 151.00 L396.38 149.50 L398.48 148.00 L401.28 146.50 L404.65 145.00 L408.54 143.50 L412.54 142.00 L414.39 140.50 L416.46 139.00 L418.01 137.50 L419.58 136.00 L420.03 134.50 L420.93 133.00 L422.12 131.50 L423.67 130.00 L425.02 128.50 L425.95 127.00 L426.91 125.50 L427.61 124.00 L427.60 122.50 L428.32 121.00 L428.56 119.50 L429.55 118.00 L429.15 116.50 L429.27 115.00 L429.25 113.50 L429.66 112.00 L430.79 110.50 L431.54 109.00 L432.72 107.50 L433.35 106.00 L434.04 104.50 L433.80 103.00 L433.28 101.50 L434.07 100.00 L434.81 98.50 L435.42 97.00 L435.82 95.50 L435.86 94.00 L436.89 92.50 L436.22 91.00 L437.03 89.50 L437.10 88.00 L438.88 86.50 L439.59 85.00 L440.54 83.50 L441.04 82.00 L441.92 80.50 L442.91 79.00 L443.59 77.50 L443.58 76.00 L443.42 74.50 L443.58 73.00 L444.57 71.50 L445.97 70.00 L446.29 68.50 L447.59 67.00 L448.22 65.50 L449.45 64.00 L449.28 62.50 L449.90 61.00 L450.43 59.50 L451.29 58.00 L451.66 56.50 L452.22 55.00 L452.52 53.50 L452.68 53.20" stroke="#50bcf4" stroke-width="1.7" fill="none" stroke-linejoin="round"/>
<path d="M333.70 159.60 L350.00 159.60 L378.50 159.40 L381.24 157.00 L384.55 155.50 L388.66 154.00 L390.90 152.50 L393.76 151.00 L396.67 149.50 L400.15 148.00 L402.88 146.50 L405.78 145.00 L408.90 143.50 L412.91 142.00 L415.50 140.50 L417.33 139.00 L419.18 137.50 L420.24 136.00 L421.38 134.50 L421.61 133.00 L422.69 131.50 L423.92 130.00 L425.36 128.50 L426.37 127.00 L427.27 125.50 L427.68 124.00 L428.57 122.50 L428.58 121.00 L428.82 119.50 L428.98 118.00 L430.23 116.50 L430.86 115.00 L431.74 113.50 L431.75 112.00 L432.00 110.50 L431.95 109.00 L432.60 107.50 L433.29 106.00 L433.68 104.50 L434.50 103.00 L435.22 101.50 L435.76 100.00 L435.63 98.50 L435.71 97.00 L436.51 95.50 L436.91 94.00 L437.60 92.50 L437.46 91.00 L438.02 89.50 L438.24 88.00 L438.86 86.50 L439.67 85.00 L440.83 83.50 L441.89 82.00 L442.39 80.50 L443.10 79.00 L443.23 77.50 L444.28 76.00 L445.12 74.50 L445.61 73.00 L445.64 71.50 L446.11 70.00 L447.52 68.50 L447.59 67.00 L447.98 65.50 L447.96 64.00 L448.69 62.50 L448.83 61.00 L450.24 59.50 L451.02 58.00 L451.65 56.50 L451.99 55.00 L452.43 53.50 L452.66 53.20" stroke="#3a68f0" stroke-width="1.7" fill="none" stroke-linejoin="round"/>
<path d="M333.70 159.60 L350.00 159.60 L378.50 159.40 L381.03 157.00 L384.37 155.50 L387.08 154.00 L391.42 152.50 L394.55 151.00 L397.86 149.50 L400.15 148.00 L403.27 146.50 L406.73 145.00 L410.45 143.50 L413.61 142.00 L415.24 140.50 L416.58 139.00 L418.89 137.50 L420.30 136.00 L421.52 134.50 L421.96 133.00 L423.83 131.50 L425.05 130.00 L426.43 128.50 L426.58 127.00 L426.98 125.50 L427.97 124.00 L428.99 122.50 L429.97 121.00 L429.77 119.50 L430.69 118.00 L431.58 116.50 L432.88 115.00 L433.44 113.50 L433.40 112.00 L433.96 110.50 L434.15 109.00 L434.90 107.50 L434.51 106.00 L434.57 104.50 L435.23 103.00 L436.74 101.50 L437.88 100.00 L438.36 98.50 L438.51 97.00 L438.23 95.50 L438.52 94.00 L438.57 92.50 L439.90 91.00 L440.45 89.50 L441.12 88.00 L441.22 86.50 L441.16 85.00 L441.48 83.50 L442.16 82.00 L442.85 80.50 L443.58 79.00 L443.43 77.50 L443.97 76.00 L445.03 74.50 L446.33 73.00 L447.21 71.50 L447.45 70.00 L447.89 68.50 L448.45 67.00 L448.42 65.50 L448.65 64.00 L448.79 62.50 L449.56 61.00 L450.53 59.50 L451.02 58.00 L451.47 56.50 L452.02 55.00 L452.64 53.50 L452.76 53.20" stroke="#2a3ae8" stroke-width="2.2" fill="none" stroke-linejoin="round"/>
<path d="M333.70 159.60 L350.00 159.60 L378.50 159.40 L381.64 157.00 L385.12 155.50 L388.26 154.00 L391.54 152.50 L394.96 151.00 L399.06 149.50 L401.92 148.00 L405.95 146.50 L408.16 145.00 L411.30 143.50 L413.45 142.00 L415.66 140.50 L417.00 139.00 L419.25 137.50 L420.79 136.00 L422.05 134.50 L422.70 133.00 L423.44 131.50 L424.50 130.00 L424.75 128.50 L425.82 127.00 L426.41 125.50 L427.70 124.00 L428.59 122.50 L429.94 121.00 L430.44 119.50 L430.47 118.00 L431.03 116.50 L431.26 115.00 L432.31 113.50 L432.42 112.00 L433.44 110.50 L434.74 109.00 L435.39 107.50 L436.44 106.00 L436.12 104.50 L436.83 103.00 L437.10 101.50 L437.50 100.00 L437.97 98.50 L438.25 97.00 L438.72 95.50 L439.82 94.00 L440.15 92.50 L440.98 91.00 L441.07 89.50 L442.12 88.00 L442.66 86.50 L442.49 85.00 L443.14 83.50 L444.03 82.00 L445.32 80.50 L444.81 79.00 L445.02 77.50 L444.78 76.00 L446.24 74.50 L445.97 73.00 L446.56 71.50 L446.50 70.00 L447.01 68.50 L447.84 67.00 L447.74 65.50 L448.49 64.00 L449.09 62.50 L449.69 61.00 L450.47 59.50 L450.97 58.00 L451.75 56.50 L452.18 55.00 L452.63 53.50 L452.68 53.20" stroke="#2424d8" stroke-width="2.2" fill="none" stroke-linejoin="round"/>
<path d="M333.70 159.60 L350.00 159.60 L378.50 159.40 L381.28 157.00 L385.20 155.50 L388.11 154.00 L392.89 152.50 L396.99 151.00 L400.48 149.50 L403.47 148.00 L407.09 146.50 L409.68 145.00 L411.98 143.50 L414.08 142.00 L416.92 140.50 L419.07 139.00 L421.21 137.50 L421.76 136.00 L421.88 134.50 L422.60 133.00 L424.33 131.50 L426.20 130.00 L427.30 128.50 L427.87 127.00 L428.74 125.50 L429.43 124.00 L430.48 122.50 L430.70 121.00 L431.37 119.50 L431.79 118.00 L432.98 116.50 L433.47 115.00 L434.06 113.50 L434.48 112.00 L435.50 110.50 L436.82 109.00 L437.64 107.50 L437.74 106.00 L437.51 104.50 L437.56 103.00 L438.32 101.50 L439.11 100.00 L440.25 98.50 L440.31 97.00 L441.29 95.50 L441.55 94.00 L441.72 92.50 L442.22 91.00 L442.14 89.50 L443.32 88.00 L443.61 86.50 L444.08 85.00 L444.53 83.50 L444.30 82.00 L444.81 80.50 L444.94 79.00 L445.85 77.50 L446.45 76.00 L446.71 74.50 L446.54 73.00 L447.08 71.50 L447.82 70.00 L448.95 68.50 L449.34 67.00 L449.43 65.50 L449.14 64.00 L449.54 62.50 L449.67 61.00 L450.56 59.50 L451.04 58.00 L451.54 56.50 L452.14 55.00 L452.44 53.50 L452.49 53.20" stroke="#5a3cd0" stroke-width="2.2" fill="none" stroke-linejoin="round"/>
<text x="342.00" y="42.50" font-size="7.4" textLength="104.00" lengthAdjust="spacingAndGlyphs" stroke="#111" stroke-width="0.2">ZH33 Gr clone size distribution</text>
<text x="311.00" y="140.30" font-size="6.9" textLength="66.00" lengthAdjust="spacingAndGlyphs" transform="rotate(-90 311.00 140.30)" stroke="#111" stroke-width="0.2">Cumulative clone size</text>
<text x="322.40" y="187.00" font-size="7.8" textLength="143.00" lengthAdjust="spacingAndGlyphs" stroke="#111" stroke-width="0.2">Clones sorted by time of maximum contribution</text>
<path d="M328.8 213.5V327.1H459.0" stroke="#111" stroke-width="1.4" fill="none"/>
<path d="M326.0 216.40H328.8" stroke="#111" stroke-width="1"/>
<text x="322.40" y="218.20" font-size="5.0" text-anchor="end" textLength="7.00" lengthAdjust="spacingAndGlyphs" stroke="#111" stroke-width="0.3">1.0</text>
<path d="M326.0 237.60H328.8" stroke="#111" stroke-width="1"/>
<text x="322.40" y="239.40" font-size="5.0" text-anchor="end" textLength="7.00" lengthAdjust="spacingAndGlyphs" stroke="#111" stroke-width="0.3">0.8</text>
<path d="M326.0 258.80H328.8" stroke="#111" stroke-width="1"/>
<text x="322.40" y="260.60" font-size="5.0" text-anchor="end" textLength="7.00" lengthAdjust="spacingAndGlyphs" stroke="#111" stroke-width="0.3">0.6</text>
<path d="M326.0 280.00H328.8" stroke="#111" stroke-width="1"/>
<text x="322.40" y="281.80" font-size="5.0" text-anchor="end" textLength="7.00" lengthAdjust="spacingAndGlyphs" stroke="#111" stroke-width="0.3">0.4</text>
<path d="M326.0 301.20H328.8" stroke="#111" stroke-width="1"/>
<text x="322.40" y="303.00" font-size="5.0" text-anchor="end" textLength="7.00" lengthAdjust="spacingAndGlyphs" stroke="#111" stroke-width="0.3">0.2</text>
<path d="M326.0 322.40H328.8" stroke="#111" stroke-width="1"/>
<text x="322.40" y="324.20" font-size="5.0" text-anchor="end" textLength="7.00" lengthAdjust="spacingAndGlyphs" stroke="#111" stroke-width="0.3">0.0</text>
<path d="M333.40 327.1V329.4" stroke="#111" stroke-width="1"/>
<text x="333.40" y="338.00" font-size="5.0" text-anchor="middle" stroke="#111" stroke-width="0.3">0</text>
<path d="M350.38 327.1V329.4" stroke="#111" stroke-width="1"/>
<text x="350.38" y="338.00" font-size="5.0" text-anchor="middle" stroke="#111" stroke-width="0.3">200</text>
<path d="M367.36 327.1V329.4" stroke="#111" stroke-width="1"/>
<text x="367.36" y="338.00" font-size="5.0" text-anchor="middle" stroke="#111" stroke-width="0.3">400</text>
<path d="M384.34 327.1V329.4" stroke="#111" stroke-width="1"/>
<text x="384.34" y="338.00" font-size="5.0" text-anchor="middle" stroke="#111" stroke-width="0.3">600</text>
<path d="M401.32 327.1V329.4" stroke="#111" stroke-width="1"/>
<text x="401.32" y="338.00" font-size="5.0" text-anchor="middle" stroke="#111" stroke-width="0.3">800</text>
<path d="M418.30 327.1V329.4" stroke="#111" stroke-width="1"/>
<text x="418.30" y="338.00" font-size="5.0" text-anchor="middle" stroke="#111" stroke-width="0.3">1000</text>
<path d="M435.28 327.1V329.4" stroke="#111" stroke-width="1"/>
<text x="435.28" y="338.00" font-size="5.0" text-anchor="middle" stroke="#111" stroke-width="0.3">1200</text>
<path d="M452.26 327.1V329.4" stroke="#111" stroke-width="1"/>
<text x="452.26" y="338.00" font-size="5.0" text-anchor="middle" stroke="#111" stroke-width="0.3">1400</text>
<path d="M333.50 322.30 L333.71 320.07 L334.00 316.89 L334.41 313.14 L335.00 309.20 L335.82 304.93 L336.83 300.21 L337.93 295.43 L339.00 291.00 L340.02 287.12 L341.05 283.54 L342.10 279.99 L343.20 276.20 L344.35 272.04 L345.54 267.67 L346.76 263.26 L348.00 259.00 L349.28 254.83 L350.60 250.70 L351.92 246.74 L353.20 243.10 L354.42 239.82 L355.61 236.82 L356.79 234.07 L358.00 231.50 L359.29 229.10 L360.64 226.89 L361.94 224.91 L363.10 223.20 L364.07 221.82 L364.92 220.73 L365.70 219.83 L366.50 219.00 L367.39 218.22 L368.31 217.54 L369.13 216.99 L369.70 216.60 L452.3 216.6" stroke="#c4521f" stroke-width="1.4" fill="none"/>
<path d="M333.50 322.40 L369.90 322.20 L371.50 310.80 L373.30 300.40 L375.30 293.50 L376.70 290.00 L380.00 283.00 L384.00 275.50 L389.50 266.20 L394.00 258.70 L399.50 251.30 L403.00 247.50 L406.10 243.10 L410.00 242.00 L414.70 239.00 L417.00 238.60 L420.00 237.20 L424.00 232.00 L427.20 228.30 L432.00 224.00 L436.20 221.10 L441.00 220.00 L445.10 219.30 L449.00 217.50 L452.30 216.60" stroke="#cf8c30" stroke-width="1.3" fill="none" stroke-linejoin="round"/>
<path d="M333.50 322.40 L335.02 322.39 L336.54 322.38 L338.06 322.38 L339.58 322.37 L341.10 322.36 L342.62 322.35 L344.15 322.34 L345.67 322.33 L347.19 322.32 L348.71 322.32 L350.23 322.31 L351.75 322.30 L353.27 322.29 L354.79 322.28 L356.31 322.27 L357.83 322.27 L359.35 322.26 L360.88 322.25 L362.40 322.24 L363.92 322.23 L365.44 322.22 L366.96 322.22 L368.48 322.21 L370.00 322.20 L371.56 322.08 L373.12 321.95 L374.69 321.83 L376.25 321.70 L377.81 321.58 L379.37 321.46 L380.93 321.33 L382.50 321.21 L384.06 321.09 L385.62 320.96 L387.18 320.84 L388.74 320.71 L390.30 320.59 L391.87 320.47 L393.43 320.34 L394.99 320.22 L396.55 320.10 L398.11 319.97 L399.68 319.85 L401.24 319.72 L402.80 319.60 L404.50 311.00 L406.40 301.18 L408.30 291.30 L410.15 286.58 L412.00 281.00 L413.50 278.88 L415.00 275.17 L416.50 272.70 L418.00 270.51 L419.50 267.85 L421.00 265.00 L423.20 261.73 L425.40 258.00 L426.80 255.50 L428.40 252.45 L430.00 250.50 L431.67 247.00 L433.33 244.67 L435.00 242.00 L436.50 239.84 L438.00 237.00 L439.50 234.65 L441.00 233.00 L442.00 231.50 L444.00 228.50 L446.00 225.50 L448.50 221.50 L451.00 218.50 L452.50 216.60" stroke="#e4ea40" stroke-width="1.3" fill="none" stroke-linejoin="round"/>
<path d="M333.50 322.40 L335.02 322.38 L336.54 322.37 L338.06 322.35 L339.58 322.33 L341.10 322.32 L342.62 322.30 L344.15 322.28 L345.67 322.27 L347.19 322.25 L348.71 322.23 L350.23 322.22 L351.75 322.20 L353.27 322.18 L354.79 322.17 L356.31 322.15 L357.83 322.13 L359.35 322.12 L360.88 322.10 L362.40 322.08 L363.92 322.07 L365.44 322.05 L366.96 322.03 L368.48 322.02 L370.00 322.00 L371.56 321.87 L373.12 321.73 L374.69 321.60 L376.25 321.47 L377.81 321.33 L379.37 321.20 L380.93 321.07 L382.50 320.93 L384.06 320.80 L385.62 320.67 L387.18 320.53 L388.74 320.40 L390.30 320.27 L391.87 320.13 L393.43 320.00 L394.99 319.87 L396.55 319.73 L398.11 319.60 L399.68 319.47 L401.24 319.33 L402.80 319.20 L404.50 306.00 L406.40 302.30 L408.30 298.00 L410.15 296.98 L412.00 295.00 L413.50 294.06 L415.00 294.70 L416.50 293.50 L418.00 292.57 L419.50 292.74 L421.00 292.00 L423.20 290.68 L425.40 290.50 L426.80 252.00 L428.40 249.86 L430.00 247.00 L431.67 245.01 L433.33 244.29 L435.00 242.50 L436.50 241.06 L438.00 239.00 L439.50 237.37 L441.00 235.00 L442.00 233.50 L444.00 230.00 L446.00 226.50 L448.50 222.00 L451.00 218.50 L452.50 216.60" stroke="#c4ec40" stroke-width="1.3" fill="none" stroke-linejoin="round"/>
<path d="M333.50 322.40 L335.02 322.38 L336.54 322.37 L338.06 322.35 L339.58 322.33 L341.10 322.32 L342.62 322.30 L344.15 322.28 L345.67 322.27 L347.19 322.25 L348.71 322.23 L350.23 322.22 L351.75 322.20 L353.27 322.18 L354.79 322.17 L356.31 322.15 L357.83 322.13 L359.35 322.12 L360.88 322.10 L362.40 322.08 L363.92 322.07 L365.44 322.05 L366.96 322.03 L368.48 322.02 L370.00 322.00 L371.56 321.88 L373.12 321.76 L374.69 321.64 L376.25 321.52 L377.81 321.40 L379.37 321.29 L380.93 321.17 L382.50 321.05 L384.06 320.93 L385.62 320.81 L387.18 320.69 L388.74 320.57 L390.30 320.45 L391.87 320.33 L393.43 320.21 L394.99 320.10 L396.55 319.98 L398.11 319.86 L399.68 319.74 L401.24 319.62 L402.80 319.50 L404.50 308.00 L406.40 303.82 L408.30 301.00 L410.15 298.96 L412.00 298.00 L413.50 297.35 L415.00 297.26 L416.50 296.50 L418.00 295.49 L419.50 294.96 L421.00 295.00 L423.20 293.87 L425.40 293.50 L426.80 262.00 L428.40 259.36 L430.00 256.00 L431.67 253.17 L433.33 251.67 L435.00 249.00 L436.50 246.73 L438.00 244.00 L439.50 240.49 L441.00 238.00 L442.00 236.00 L444.00 232.00 L446.00 228.00 L448.50 223.00 L451.00 219.00 L452.50 216.60" stroke="#9ce640" stroke-width="1.3" fill="none" stroke-linejoin="round"/>
<path d="M333.50 322.40 L335.02 322.38 L336.54 322.37 L338.06 322.35 L339.58 322.33 L341.10 322.32 L342.62 322.30 L344.15 322.28 L345.67 322.27 L347.19 322.25 L348.71 322.23 L350.23 322.22 L351.75 322.20 L353.27 322.18 L354.79 322.17 L356.31 322.15 L357.83 322.13 L359.35 322.12 L360.88 322.10 L362.40 322.08 L363.92 322.07 L365.44 322.05 L366.96 322.03 L368.48 322.02 L370.00 322.00 L371.56 321.89 L373.12 321.79 L374.69 321.68 L376.25 321.57 L377.81 321.46 L379.37 321.36 L380.93 321.25 L382.50 321.14 L384.06 321.04 L385.62 320.93 L387.18 320.82 L388.74 320.71 L390.30 320.61 L391.87 320.50 L393.43 320.39 L394.99 320.29 L396.55 320.18 L398.11 320.07 L399.68 319.96 L401.24 319.86 L402.80 319.75 L404.50 309.00 L406.40 305.95 L408.30 302.50 L410.15 301.03 L412.00 299.75 L413.50 299.56 L415.00 298.14 L416.50 298.25 L418.00 298.03 L419.50 297.07 L421.00 296.75 L423.20 296.15 L425.40 295.25 L426.80 271.00 L428.40 266.54 L430.00 263.00 L431.67 259.95 L433.33 257.01 L435.00 254.50 L436.50 251.76 L438.00 249.50 L439.50 247.07 L441.00 244.00 L442.00 241.00 L444.00 235.00 L446.00 229.50 L448.50 223.50 L451.00 219.25 L452.50 216.60" stroke="#6ee24a" stroke-width="1.3" fill="none" stroke-linejoin="round"/>
<path d="M333.50 322.40 L335.02 322.38 L336.54 322.37 L338.06 322.35 L339.58 322.33 L341.10 322.32 L342.62 322.30 L344.15 322.28 L345.67 322.27 L347.19 322.25 L348.71 322.23 L350.23 322.22 L351.75 322.20 L353.27 322.18 L354.79 322.17 L356.31 322.15 L357.83 322.13 L359.35 322.12 L360.88 322.10 L362.40 322.08 L363.92 322.07 L365.44 322.05 L366.96 322.03 L368.48 322.02 L370.00 322.00 L371.56 321.90 L373.12 321.81 L374.69 321.71 L376.25 321.62 L377.81 321.52 L379.37 321.43 L380.93 321.33 L382.50 321.24 L384.06 321.14 L385.62 321.05 L387.18 320.95 L388.74 320.86 L390.30 320.76 L391.87 320.67 L393.43 320.57 L394.99 320.48 L396.55 320.38 L398.11 320.29 L399.68 320.19 L401.24 320.10 L402.80 320.00 L404.50 310.00 L406.40 306.68 L408.30 304.00 L410.15 302.73 L412.00 301.50 L413.50 300.41 L415.00 300.27 L416.50 300.00 L418.00 298.90 L419.50 298.32 L421.00 298.50 L423.20 297.45 L425.40 297.00 L426.80 280.00 L428.40 274.46 L430.00 270.00 L431.67 266.40 L433.33 263.67 L435.00 260.00 L436.50 256.85 L438.00 255.00 L439.50 252.67 L441.00 250.00 L442.00 246.00 L444.00 238.00 L446.00 231.00 L448.50 224.00 L451.00 219.50 L452.50 216.60" stroke="#5adc78" stroke-width="1.3" fill="none" stroke-linejoin="round"/>
<path d="M333.50 322.43 L335.02 322.42 L336.54 322.40 L338.06 322.38 L339.58 322.36 L341.10 322.34 L342.62 322.32 L344.15 322.31 L345.67 322.29 L347.19 322.27 L348.71 322.25 L350.23 322.23 L351.75 322.22 L353.27 322.20 L354.79 322.18 L356.31 322.16 L357.83 322.14 L359.35 322.13 L360.88 322.11 L362.40 322.09 L363.92 322.07 L365.44 322.05 L366.96 322.04 L368.48 322.02 L370.00 322.00 L371.56 321.92 L373.12 321.85 L374.69 321.77 L376.25 321.70 L377.81 321.62 L379.37 321.54 L380.93 321.47 L382.50 321.39 L384.06 321.31 L385.62 321.24 L387.18 321.16 L388.74 321.09 L390.30 321.01 L391.87 320.93 L393.43 320.86 L394.99 320.78 L396.55 320.70 L398.11 320.63 L399.68 320.55 L401.24 320.48 L402.80 320.40 L404.50 310.50 L406.40 308.50 L408.30 305.17 L410.15 303.46 L412.00 303.00 L413.50 302.82 L415.00 301.98 L416.50 301.50 L418.00 301.67 L419.50 300.48 L421.00 300.17 L423.20 300.09 L425.40 298.83 L426.80 283.67 L428.40 279.19 L430.00 275.67 L431.67 273.36 L433.33 269.54 L435.00 266.67 L436.50 263.56 L438.00 261.33 L439.50 258.45 L441.00 256.00 L442.00 249.00 L444.00 239.33 L446.00 231.33 L448.50 224.00 L451.00 219.33 L452.50 216.60" stroke="#60e4c0" stroke-width="1.3" fill="none" stroke-linejoin="round"/>
<path d="M333.50 322.47 L335.02 322.45 L336.54 322.43 L338.06 322.41 L339.58 322.39 L341.10 322.37 L342.62 322.35 L344.15 322.33 L345.67 322.31 L347.19 322.29 L348.71 322.27 L350.23 322.25 L351.75 322.23 L353.27 322.21 L354.79 322.19 L356.31 322.18 L357.83 322.16 L359.35 322.14 L360.88 322.12 L362.40 322.10 L363.92 322.08 L365.44 322.06 L366.96 322.04 L368.48 322.02 L370.00 322.00 L371.56 321.94 L373.12 321.89 L374.69 321.83 L376.25 321.77 L377.81 321.71 L379.37 321.66 L380.93 321.60 L382.50 321.54 L384.06 321.49 L385.62 321.43 L387.18 321.37 L388.74 321.31 L390.30 321.26 L391.87 321.20 L393.43 321.14 L394.99 321.09 L396.55 321.03 L398.11 320.97 L399.68 320.91 L401.24 320.86 L402.80 320.80 L404.50 311.00 L406.40 308.28 L408.30 306.33 L410.15 306.02 L412.00 304.50 L413.50 304.62 L415.00 302.83 L416.50 303.00 L418.00 303.10 L419.50 302.52 L421.00 301.83 L423.20 301.50 L425.40 300.67 L426.80 287.33 L428.40 283.65 L430.00 281.33 L431.67 279.13 L433.33 275.83 L435.00 273.33 L436.50 270.93 L438.00 267.67 L439.50 264.88 L441.00 262.00 L442.00 252.00 L444.00 240.67 L446.00 231.67 L448.50 224.00 L451.00 219.17 L452.50 216.60" stroke="#70eef0" stroke-width="1.3" fill="none" stroke-linejoin="round"/>
<path d="M333.50 322.50 L335.02 322.48 L336.54 322.46 L338.06 322.44 L339.58 322.42 L341.10 322.40 L342.62 322.38 L344.15 322.35 L345.67 322.33 L347.19 322.31 L348.71 322.29 L350.23 322.27 L351.75 322.25 L353.27 322.23 L354.79 322.21 L356.31 322.19 L357.83 322.17 L359.35 322.15 L360.88 322.12 L362.40 322.10 L363.92 322.08 L365.44 322.06 L366.96 322.04 L368.48 322.02 L370.00 322.00 L371.56 321.96 L373.12 321.92 L374.69 321.89 L376.25 321.85 L377.81 321.81 L379.37 321.77 L380.93 321.73 L382.50 321.70 L384.06 321.66 L385.62 321.62 L387.18 321.58 L388.74 321.54 L390.30 321.50 L391.87 321.47 L393.43 321.43 L394.99 321.39 L396.55 321.35 L398.11 321.31 L399.68 321.28 L401.24 321.24 L402.80 321.20 L404.50 311.50 L406.40 308.90 L408.30 307.50 L410.15 306.66 L412.00 306.00 L413.50 305.14 L415.00 304.92 L416.50 304.50 L418.00 303.83 L419.50 304.34 L421.00 303.50 L423.20 303.08 L425.40 302.50 L426.80 291.00 L428.40 289.34 L430.00 287.00 L431.67 285.26 L433.33 282.33 L435.00 280.00 L436.50 276.96 L438.00 274.00 L439.50 270.48 L441.00 268.00 L442.00 255.00 L444.00 242.00 L446.00 232.00 L448.50 224.00 L451.00 219.00 L452.50 216.60" stroke="#50bcf4" stroke-width="1.3" fill="none" stroke-linejoin="round"/>
<path d="M333.50 322.50 L335.02 322.48 L336.54 322.47 L338.06 322.45 L339.58 322.43 L341.10 322.42 L342.62 322.40 L344.15 322.38 L345.67 322.37 L347.19 322.35 L348.71 322.33 L350.23 322.32 L351.75 322.30 L353.27 322.28 L354.79 322.27 L356.31 322.25 L357.83 322.23 L359.35 322.22 L360.88 322.20 L362.40 322.18 L363.92 322.17 L365.44 322.15 L366.96 322.13 L368.48 322.12 L370.00 322.10 L371.56 322.06 L373.12 322.02 L374.69 321.98 L376.25 321.94 L377.81 321.90 L379.37 321.86 L380.93 321.82 L382.50 321.78 L384.06 321.74 L385.62 321.70 L387.18 321.66 L388.74 321.62 L390.30 321.58 L391.87 321.54 L393.43 321.50 L394.99 321.47 L396.55 321.43 L398.11 321.39 L399.68 321.35 L401.24 321.31 L402.80 321.27 L404.50 312.00 L406.40 309.84 L408.30 308.30 L410.15 307.65 L412.00 307.00 L413.50 306.63 L415.00 306.03 L416.50 305.63 L418.00 305.41 L419.50 304.93 L421.00 304.60 L423.20 304.13 L425.40 303.60 L426.80 293.17 L428.40 290.67 L430.00 289.00 L431.67 286.02 L433.33 283.79 L435.00 281.70 L436.50 279.08 L438.00 275.67 L439.50 272.47 L441.00 270.60 L442.00 257.33 L444.00 242.67 L446.00 233.13 L448.50 225.00 L451.00 219.17 L452.50 216.60" stroke="#3a68f0" stroke-width="1.9" fill="none" stroke-linejoin="round"/>
<path d="M333.50 322.50 L335.02 322.49 L336.54 322.48 L338.06 322.46 L339.58 322.45 L341.10 322.44 L342.62 322.43 L344.15 322.41 L345.67 322.40 L347.19 322.39 L348.71 322.38 L350.23 322.36 L351.75 322.35 L353.27 322.34 L354.79 322.32 L356.31 322.31 L357.83 322.30 L359.35 322.29 L360.88 322.27 L362.40 322.26 L363.92 322.25 L365.44 322.24 L366.96 322.22 L368.48 322.21 L370.00 322.20 L371.56 322.16 L373.12 322.12 L374.69 322.08 L376.25 322.03 L377.81 321.99 L379.37 321.95 L380.93 321.91 L382.50 321.87 L384.06 321.83 L385.62 321.79 L387.18 321.75 L388.74 321.70 L390.30 321.66 L391.87 321.62 L393.43 321.58 L394.99 321.54 L396.55 321.50 L398.11 321.46 L399.68 321.42 L401.24 321.37 L402.80 321.33 L404.50 312.50 L406.40 310.48 L408.30 309.10 L410.15 308.61 L412.00 308.00 L413.50 307.88 L415.00 307.82 L416.50 306.77 L418.00 306.23 L419.50 306.10 L421.00 305.70 L423.20 305.02 L425.40 304.70 L426.80 295.33 L428.40 293.24 L430.00 291.00 L431.67 288.94 L433.33 286.62 L435.00 283.40 L436.50 280.97 L438.00 277.33 L439.50 275.88 L441.00 273.20 L442.00 259.67 L444.00 243.33 L446.00 234.27 L448.50 226.00 L451.00 219.33 L452.50 216.60" stroke="#2a3ae8" stroke-width="1.9" fill="none" stroke-linejoin="round"/>
<path d="M333.50 322.50 L335.02 322.49 L336.54 322.48 L338.06 322.48 L339.58 322.47 L341.10 322.46 L342.62 322.45 L344.15 322.44 L345.67 322.43 L347.19 322.43 L348.71 322.42 L350.23 322.41 L351.75 322.40 L353.27 322.39 L354.79 322.38 L356.31 322.38 L357.83 322.37 L359.35 322.36 L360.88 322.35 L362.40 322.34 L363.92 322.33 L365.44 322.32 L366.96 322.32 L368.48 322.31 L370.00 322.30 L371.56 322.26 L373.12 322.21 L374.69 322.17 L376.25 322.13 L377.81 322.09 L379.37 322.04 L380.93 322.00 L382.50 321.96 L384.06 321.91 L385.62 321.87 L387.18 321.83 L388.74 321.79 L390.30 321.74 L391.87 321.70 L393.43 321.66 L394.99 321.61 L396.55 321.57 L398.11 321.53 L399.68 321.49 L401.24 321.44 L402.80 321.40 L404.50 313.00 L406.40 310.95 L408.30 309.90 L410.15 309.01 L412.00 309.00 L413.50 309.11 L415.00 308.32 L416.50 307.90 L418.00 307.23 L419.50 306.94 L421.00 306.80 L423.20 306.36 L425.40 305.80 L426.80 297.50 L428.40 295.01 L430.00 293.00 L431.67 290.66 L433.33 287.20 L435.00 285.10 L436.50 281.86 L438.00 279.00 L439.50 277.09 L441.00 275.80 L442.00 262.00 L444.00 244.00 L446.00 235.40 L448.50 227.00 L451.00 219.50 L452.50 216.60" stroke="#5a3cd0" stroke-width="1.9" fill="none" stroke-linejoin="round"/>
<text x="342.00" y="206.00" font-size="7.4" textLength="104.00" lengthAdjust="spacingAndGlyphs" stroke="#111" stroke-width="0.2">ZG66 Gr clone size distribution</text>
<text x="311.00" y="303.30" font-size="6.9" textLength="66.00" lengthAdjust="spacingAndGlyphs" transform="rotate(-90 311.00 303.30)" stroke="#111" stroke-width="0.2">Cumulative clone size</text>
<text x="322.40" y="353.60" font-size="7.8" textLength="143.00" lengthAdjust="spacingAndGlyphs" stroke="#111" stroke-width="0.2">Clones sorted by time of maximum contribution</text>
<text x="487.60" y="49.20" font-size="7.9" text-anchor="middle" textLength="24.20" lengthAdjust="spacingAndGlyphs" stroke="#111" stroke-width="0.1">Months</text>
<text x="487.60" y="58.00" font-size="7.9" text-anchor="middle" textLength="51.20" lengthAdjust="spacingAndGlyphs" stroke="#111" stroke-width="0.1">post-transplant</text>
<circle cx="482.00" cy="64.70" r="1.15" fill="#b8582c"/>
<text x="486.90" y="66.50" font-size="5.0" stroke="#111" stroke-width="0.12">1</text>
<circle cx="482.00" cy="72.10" r="1.15" fill="#c89440"/>
<text x="486.90" y="73.90" font-size="5.0" stroke="#111" stroke-width="0.12">2</text>
<circle cx="482.00" cy="79.50" r="1.15" fill="#e6c44a"/>
<text x="486.90" y="81.30" font-size="5.0" stroke="#111" stroke-width="0.12">3</text>
<circle cx="482.00" cy="86.90" r="1.15" fill="#e0e070"/>
<text x="486.90" y="88.70" font-size="5.0" stroke="#111" stroke-width="0.12">4.5</text>
<circle cx="482.00" cy="94.30" r="1.15" fill="#c6e066"/>
<text x="486.90" y="96.10" font-size="5.0" stroke="#111" stroke-width="0.12">6.5</text>
<circle cx="482.00" cy="101.70" r="1.15" fill="#a6d862"/>
<text x="486.90" y="103.50" font-size="5.0" stroke="#111" stroke-width="0.12">9.5</text>
<circle cx="482.00" cy="109.10" r="1.15" fill="#80cf5e"/>
<text x="486.90" y="110.90" font-size="5.0" stroke="#111" stroke-width="0.12">12</text>
<circle cx="482.00" cy="116.50" r="1.15" fill="#8cd48c"/>
<text x="486.90" y="118.30" font-size="5.0" stroke="#111" stroke-width="0.12">14</text>
<circle cx="482.00" cy="123.90" r="1.15" fill="#9ad8b4"/>
<text x="486.90" y="125.70" font-size="5.0" stroke="#111" stroke-width="0.12">21</text>
<circle cx="482.00" cy="131.30" r="1.15" fill="#a8dce4"/>
<text x="486.90" y="133.10" font-size="5.0" stroke="#111" stroke-width="0.12">26</text>
<circle cx="482.00" cy="138.70" r="1.15" fill="#7a9cc4"/>
<text x="486.90" y="140.50" font-size="5.0" stroke="#111" stroke-width="0.12">30</text>
<circle cx="482.00" cy="146.10" r="1.15" fill="#3448c4"/>
<text x="486.90" y="147.90" font-size="5.0" stroke="#111" stroke-width="0.12">36</text>
<circle cx="482.00" cy="153.50" r="1.15" fill="#1c1ca8"/>
<text x="486.90" y="155.30" font-size="5.0" stroke="#111" stroke-width="0.12">43</text>
<circle cx="482.00" cy="160.90" r="1.15" fill="#20208e"/>
<text x="486.90" y="162.70" font-size="5.0" stroke="#111" stroke-width="0.12">46</text>
<circle cx="482.00" cy="168.30" r="1.15" fill="#5634a2"/>
<text x="486.90" y="170.10" font-size="5.0" stroke="#111" stroke-width="0.12">49</text>
<text x="487.60" y="220.10" font-size="7.9" text-anchor="middle" textLength="24.20" lengthAdjust="spacingAndGlyphs" stroke="#111" stroke-width="0.1">Months</text>
<text x="487.60" y="229.30" font-size="7.9" text-anchor="middle" textLength="51.20" lengthAdjust="spacingAndGlyphs" stroke="#111" stroke-width="0.1">post-transplant</text>
<circle cx="480.70" cy="234.80" r="1.15" fill="#b8582c"/>
<text x="485.40" y="236.60" font-size="5.0" stroke="#111" stroke-width="0.12">1</text>
<circle cx="480.70" cy="242.30" r="1.15" fill="#c89440"/>
<text x="485.40" y="244.10" font-size="5.0" stroke="#111" stroke-width="0.12">2</text>
<circle cx="480.70" cy="249.80" r="1.15" fill="#e0e060"/>
<text x="485.40" y="251.60" font-size="5.0" stroke="#111" stroke-width="0.12">3</text>
<circle cx="480.70" cy="257.30" r="1.15" fill="#c8e060"/>
<text x="485.40" y="259.10" font-size="5.0" stroke="#111" stroke-width="0.12">4.5</text>
<circle cx="480.70" cy="264.80" r="1.15" fill="#b0d860"/>
<text x="485.40" y="266.60" font-size="5.0" stroke="#111" stroke-width="0.12">6.5</text>
<circle cx="480.70" cy="272.30" r="1.15" fill="#88d060"/>
<text x="485.40" y="274.10" font-size="5.0" stroke="#111" stroke-width="0.12">12</text>
<circle cx="480.70" cy="279.80" r="1.15" fill="#80d080"/>
<text x="485.40" y="281.60" font-size="5.0" stroke="#111" stroke-width="0.12">14.5</text>
<circle cx="480.70" cy="287.30" r="1.15" fill="#a0d8b0"/>
<text x="485.40" y="289.10" font-size="5.0" stroke="#111" stroke-width="0.12">17</text>
<circle cx="480.70" cy="294.80" r="1.15" fill="#b0e0e0"/>
<text x="485.40" y="296.60" font-size="5.0" stroke="#111" stroke-width="0.12">22</text>
<circle cx="480.70" cy="302.30" r="1.15" fill="#90b8d8"/>
<text x="485.40" y="304.10" font-size="5.0" stroke="#111" stroke-width="0.12">24</text>
<circle cx="480.70" cy="309.80" r="1.15" fill="#3050c8"/>
<text x="485.40" y="311.60" font-size="5.0" stroke="#111" stroke-width="0.12">27</text>
<circle cx="480.70" cy="317.30" r="1.15" fill="#1c1ca8"/>
<text x="485.40" y="319.10" font-size="5.0" stroke="#111" stroke-width="0.12">36</text>
<circle cx="480.70" cy="324.80" r="1.15" fill="#40309a"/>
<text x="485.40" y="326.60" font-size="5.0" stroke="#111" stroke-width="0.12">42</text>
</g>
</svg>
</body></html>
